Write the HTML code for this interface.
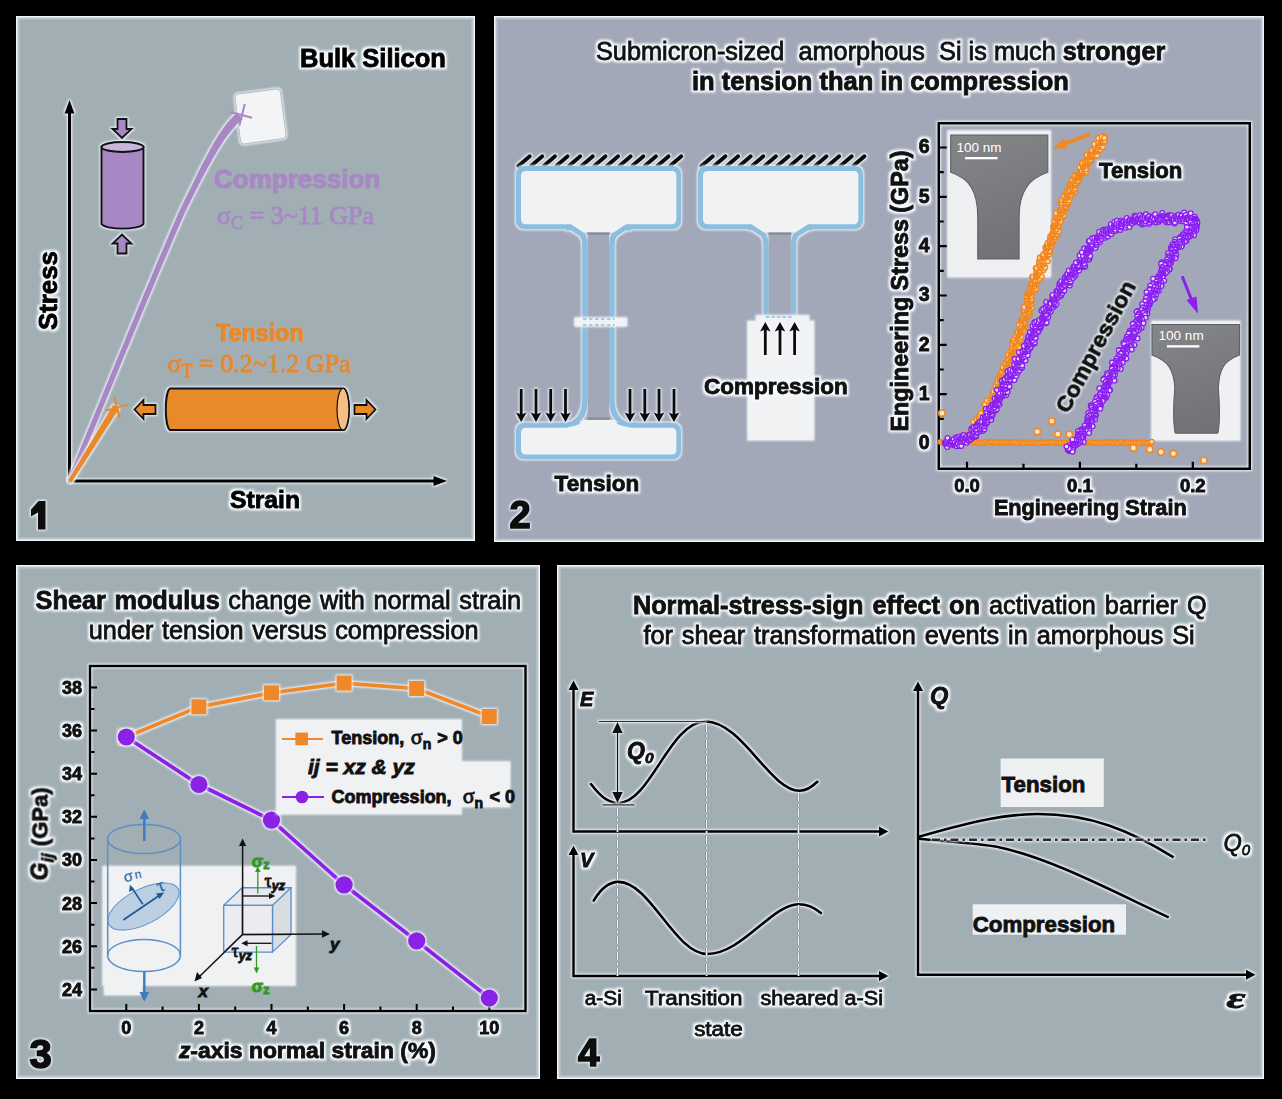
<!DOCTYPE html>
<html><head><meta charset="utf-8"><style>html,body{margin:0;padding:0;background:#000;width:1282px;height:1099px;overflow:hidden}svg{display:block}</style></head>
<body><svg width="1282" height="1099" viewBox="0 0 1282 1099">

<defs>
 <filter id="g" filterUnits="userSpaceOnUse" x="-1500" y="-1500" width="4500" height="4500" color-interpolation-filters="sRGB">
  <feMorphology in="SourceAlpha" operator="dilate" radius="1.5" result="d"/>
  <feGaussianBlur in="d" stdDeviation="1.05" result="b"/>
  <feFlood flood-color="#f8fcff" flood-opacity="1"/>
  <feComposite in2="b" operator="in" result="gl"/>
  <feMerge><feMergeNode in="gl"/><feMergeNode in="SourceGraphic"/></feMerge>
 </filter>
 <filter id="gs" filterUnits="userSpaceOnUse" x="-1500" y="-1500" width="4500" height="4500" color-interpolation-filters="sRGB">
  <feMorphology in="SourceAlpha" operator="dilate" radius="0.7" result="d"/>
  <feGaussianBlur in="d" stdDeviation="0.9" result="b"/>
  <feFlood flood-color="#f8fcff" flood-opacity="0.9"/>
  <feComposite in2="b" operator="in" result="gl"/>
  <feMerge><feMergeNode in="gl"/><feMergeNode in="SourceGraphic"/></feMerge>
 </filter>
 <filter id="num" filterUnits="userSpaceOnUse" x="-1500" y="-1500" width="4500" height="4500" color-interpolation-filters="sRGB">
  <feMorphology in="SourceAlpha" operator="dilate" radius="1" result="d"/>
  <feGaussianBlur in="d" stdDeviation="1.2" result="b"/>
  <feFlood flood-color="#f4fbff" flood-opacity="0.95"/>
  <feComposite in2="b" operator="in" result="gl"/>
  <feMerge><feMergeNode in="gl"/><feMergeNode in="SourceGraphic"/></feMerge>
 </filter>
 <filter id="inner" x="0" y="0" width="100%" height="100%" color-interpolation-filters="sRGB">
  <feGaussianBlur in="SourceAlpha" stdDeviation="1.5"/>
 </filter>
 <marker id="ah" viewBox="0 0 10 10" refX="9" refY="5" markerWidth="6" markerHeight="6" orient="auto-start-reverse">
  <path d="M0,0 L10,5 L0,10 z" fill="#000"/>
 </marker>
</defs>

<rect width="1282" height="1099" fill="#000"/>
<rect x="16" y="16" width="459" height="525" fill="#eef8fb"/>
<rect x="17.6" y="17.6" width="455.8" height="521.8" fill="#a1aeb4"/>
<rect x="18.6" y="18.6" width="453.8" height="519.8" fill="none" stroke="#eef8fb" stroke-opacity="0.3" stroke-width="2"/>
<g filter="url(#gs)">
<path d="M69.5,482.5 L69.5,110" stroke="#000" stroke-width="3" fill="none"/>
<path d="M64.6,113.5 L69.5,100 L74.4,113.5 Z" fill="#000"/>
<path d="M68,481 L437,481" stroke="#000" stroke-width="3" fill="none"/>
<path d="M433.5,476.1 L447,481 L433.5,485.9 Z" fill="#000"/>
</g>
<path d="M238,94 L277,89 Q280,89 280.5,92 L286,135 Q286,138 283,138.5 L244,144 Q241,144 240.5,141 L235,98 Q235,94.5 238,94 Z" fill="#f3f4f6" stroke="#8d969b" stroke-width="0.6" filter="url(#gs)"/>
<path d="M72.4,482.0 L74.3,477.3 L76.4,472.3 L78.5,467.1 L80.8,461.6 L83.1,455.9 L85.5,450.0 L88.1,443.9 L90.6,437.6 L93.3,431.1 L96.0,424.5 L98.8,417.7 L101.7,410.8 L104.6,403.8 L107.5,396.6 L110.5,389.4 L113.5,382.0 L116.6,374.6 L119.7,367.1 L122.8,359.6 L125.9,352.1 L129.1,344.5 L132.2,336.9 L135.4,329.3 L138.5,321.7 L141.7,314.2 L144.8,306.7 L147.9,299.2 L151.0,291.9 L154.1,284.6 L157.1,277.3 L160.1,270.2 L163.1,263.3 L166.0,256.4 L168.9,249.7 L171.7,243.1 L174.4,236.8 L177.1,230.6 L179.7,224.5 L182.2,218.7 L184.6,213.2 L186.3,209.8 L188.0,206.3 L189.7,202.9 L191.4,199.6 L193.0,196.3 L194.6,193.0 L196.2,189.8 L197.8,186.6 L199.4,183.5 L201.0,180.5 L202.5,177.5 L204.1,174.6 L205.6,171.8 L207.1,168.9 L208.6,166.2 L210.1,163.5 L211.6,160.9 L213.0,158.3 L214.5,155.8 L215.9,153.4 L217.3,151.0 L218.8,148.7 L220.2,146.4 L221.6,144.3 L222.9,142.1 L224.3,140.1 L225.7,138.1 L227.0,136.2 L228.4,134.4 L229.7,132.7 L231.1,131.0 L232.4,129.4 L233.7,127.9 L235.0,126.4 L236.3,125.1 L237.6,123.8 L238.9,122.6 L240.2,121.5 L241.4,120.4 L242.8,119.4 L237.2,112.6 L235.9,113.8 L234.4,115.0 L233.0,116.4 L231.6,117.9 L230.2,119.4 L228.9,120.9 L227.5,122.6 L226.1,124.3 L224.8,126.1 L223.4,127.9 L222.1,129.8 L220.7,131.8 L219.4,133.9 L218.0,136.0 L216.7,138.1 L215.3,140.4 L214.0,142.6 L212.6,145.0 L211.2,147.4 L209.8,149.9 L208.5,152.4 L207.1,155.0 L205.7,157.7 L204.2,160.4 L202.8,163.1 L201.4,165.9 L199.9,168.8 L198.5,171.7 L197.0,174.7 L195.5,177.8 L194.0,180.9 L192.5,184.0 L190.9,187.2 L189.3,190.4 L187.7,193.7 L186.1,197.0 L184.5,200.3 L182.8,203.8 L181.1,207.2 L179.4,210.8 L176.9,216.4 L174.4,222.3 L171.8,228.3 L169.1,234.5 L166.4,240.9 L163.6,247.5 L160.7,254.2 L157.8,261.0 L154.9,268.0 L151.9,275.2 L148.9,282.4 L145.8,289.7 L142.7,297.1 L139.6,304.5 L136.5,312.0 L133.4,319.6 L130.2,327.2 L127.1,334.8 L124.0,342.4 L120.8,349.9 L117.7,357.5 L114.6,365.0 L111.5,372.5 L108.5,379.9 L105.5,387.3 L102.5,394.6 L99.6,401.7 L96.7,408.8 L93.8,415.7 L91.1,422.5 L88.4,429.1 L85.7,435.6 L83.1,441.9 L80.6,448.0 L78.2,453.9 L75.9,459.6 L73.7,465.1 L71.5,470.3 L69.5,475.3 L67.6,480.0 Z" fill="#a788c4" filter="url(#gs)"/>
<path d="M230.6,112 L252,117.8 M244.8,104 L239.3,125.7" stroke="#a788c4" stroke-width="2" fill="none"/>
<path d="M68.8,480.2 L113.5,405.5 L118.5,408.5 L71.2,481.8 Z" fill="#e8892a" stroke="#e8892a" stroke-width="1.2" stroke-linejoin="round" filter="url(#gs)"/>
<path d="M106,410.6 L127.8,404.6 M114.2,397 L119.6,418" stroke="#e8892a" stroke-width="2" fill="none"/>
<g filter="url(#gs)">
<path d="M101.5,147 L101.5,224 A21.25,5.5 0 0 0 143.5,224 L143.5,147 Z" fill="#a788c4" stroke="#111" stroke-width="1.9"/>
<ellipse cx="122.5" cy="147" rx="21" ry="5" fill="#cbb6db" stroke="#111" stroke-width="1.9"/>
</g>
<path d="M117.5,119 L126.5,119 L126.5,129 L131.5,129 L122,138 L112.5,129 L117.5,129 Z" fill="#a788c4" stroke="#111" stroke-width="1.8" stroke-linejoin="miter" filter="url(#gs)"/>
<path d="M117.5,253.5 L126.5,253.5 L126.5,243.5 L131.5,243.5 L122,234.5 L112.5,243.5 L117.5,243.5 Z" fill="#a788c4" stroke="#111" stroke-width="1.8" stroke-linejoin="miter" filter="url(#gs)"/>
<g filter="url(#gs)">
<path d="M170,388.5 L344,388.5 A6,21 0 0 1 344,430 L170,430 A5,21 0 0 1 170,388.5 Z" fill="#e8892a" stroke="#111" stroke-width="1.9"/>
<ellipse cx="343" cy="409.25" rx="6" ry="20.75" fill="#f5bf82" stroke="#111" stroke-width="1.2"/>
</g>
<path d="M155.5,405.0 L155.5,414.0 L143.5,414.0 L143.5,419.0 L134.5,409.5 L143.5,400.0 L143.5,405.0 Z" fill="#e8892a" stroke="#111" stroke-width="1.8" filter="url(#gs)"/>
<path d="M354.5,405.0 L354.5,414.0 L366.5,414.0 L366.5,419.0 L375.5,409.5 L366.5,400.0 L366.5,405.0 Z" fill="#e8892a" stroke="#111" stroke-width="1.8" filter="url(#gs)"/>
<text x="300" y="67" font-family="'Liberation Sans', sans-serif" font-size="25.5" font-weight="bold" font-style="normal" fill="#000" text-anchor="start" filter="url(#g)"  stroke="#000" stroke-width="0.85">Bulk Silicon</text>
<text x="214" y="188" font-family="'Liberation Sans', sans-serif" font-size="26" font-weight="bold" font-style="normal" fill="#a788c4" text-anchor="start"  stroke="#a788c4" stroke-width="0.85">Compression</text>
<text x="217" y="224" font-family="'Liberation Serif', serif" font-size="26" fill="#a788c4" stroke="#a788c4" stroke-width="0.8">σ<tspan font-size="18" dy="5">C</tspan><tspan dy="-5"> = 3~11 GPa</tspan></text>
<text x="216.5" y="340.5" font-family="'Liberation Sans', sans-serif" font-size="23.3" font-weight="bold" font-style="normal" fill="#e8892a" text-anchor="start"  stroke="#e8892a" stroke-width="0.85">Tension</text>
<text x="168" y="372" font-family="'Liberation Serif', serif" font-size="26" fill="#e8892a" stroke="#e8892a" stroke-width="0.8">σ<tspan font-size="18" dy="5">T</tspan><tspan dy="-5"> = 0.2~1.2 GPa</tspan></text>
<text x="230" y="507.5" font-family="'Liberation Sans', sans-serif" font-size="24.7" font-weight="bold" font-style="normal" fill="#000" text-anchor="start" filter="url(#g)"  stroke="#000" stroke-width="0.85">Strain</text>
<text x="0" y="0" font-family="'Liberation Sans', sans-serif" font-size="25.8" font-weight="bold" font-style="normal" fill="#000" text-anchor="start" filter="url(#g)" transform="translate(57,330) rotate(-90)" stroke="#000" stroke-width="0.85">Stress</text>
<path d="M38.5,501 L45.5,501 L45.5,529.5 L38,529.5 L38,512.5 L31,516.5 L31,509.5 Z" fill="#0d0d0d" filter="url(#num)"/>
<rect x="494" y="16" width="770" height="526" fill="#eef8fb"/>
<rect x="495.6" y="17.6" width="766.8" height="522.8" fill="#a2a8b8"/>
<rect x="496.6" y="18.6" width="764.8" height="520.8" fill="none" stroke="#eef8fb" stroke-opacity="0.3" stroke-width="2"/>
<text x="596" y="60.2" font-family="'Liberation Sans', sans-serif" font-size="25.3" fill="#111" filter="url(#g)" xml:space="preserve" stroke="#111" stroke-width="0.8">Submicron-sized  amorphous  Si is much <tspan font-weight="bold">stronger</tspan></text>
<text x="692" y="90.4" font-family="'Liberation Sans', sans-serif" font-size="25.5" font-weight="bold" font-style="normal" fill="#111" text-anchor="start" filter="url(#g)"  stroke="#111" stroke-width="0.85">in tension than in compression</text>
<path d="M518.4,166 L529.7,156.2 M531.0,166 L542.3,156.2 M543.7,166 L555.0,156.2 M556.3,166 L567.6,156.2 M568.9,166 L580.2,156.2 M581.5,166 L592.8,156.2 M594.2,166 L605.5,156.2 M606.8,166 L618.1,156.2 M619.4,166 L630.7,156.2 M632.1,166 L643.4,156.2 M644.7,166 L656.0,156.2 M657.3,166 L668.6,156.2 M670.0,166 L681.3,156.2" stroke="#0a0a0a" stroke-width="3.8" stroke-linecap="round" fill="none" filter="url(#gs)"/>
<g filter="url(#gs)"><rect x="515.9" y="166" width="165.1" height="63.2" rx="8" fill="#8cbedf"/><rect x="515.9" y="422.8" width="165.1" height="36.5" rx="8" fill="#8cbedf"/><path d="M566,227.6 L572,227.6 L581.5,234 Q585,237 585,246 L585,400 C585,414 578,425.3 564,425.3 L560,425.3" stroke="#8cbedf" stroke-width="5.6" fill="none" stroke-linejoin="round"/><path d="M631,227.6 L625,227.6 L615.3,234 Q611.8,237 611.8,246 L611.8,400 C611.8,414 619,425.3 633,425.3 L637,425.3" stroke="#8cbedf" stroke-width="5.6" fill="none" stroke-linejoin="round"/></g>
<rect x="587.8" y="236" width="21.2" height="182" fill="#a2a8b8"/>
<path d="M526,171 L671.4,171 Q676.4,171 676.4,176 L676.4,219.3 Q676.4,224.3 671.4,224.3 L626,224.3 L613.5,232.5 L583.5,232.5 L571,224.3 L526,224.3 Q521,224.3 521,219.3 L521,176 Q521,171 526,171 Z" fill="#f1f2f4"/>
<path d="M526,427.7 L566,427.7 C576,426 582,424 583,419.8 L614,419.8 C615,424 621,426 631,427.7 L671.4,427.7 Q676.4,427.7 676.4,432.7 L676.4,449.4 Q676.4,454.4 671.4,454.4 L526,454.4 Q521,454.4 521,449.4 L521,432.7 Q521,427.7 526,427.7 Z" fill="#f1f2f4"/>
<rect x="587.5" y="232.5" width="21.8" height="2.2" fill="#7f8490" opacity="0.85"/>
<rect x="587.5" y="417.6" width="21.8" height="2.2" fill="#7f8490" opacity="0.85"/>
<rect x="575" y="318" width="51.5" height="8" rx="1" fill="#f1f2f4" filter="url(#gs)"/>
<path d="M583,319 L614.5,319 M583,325 L614.5,325" stroke="#8cbedf" stroke-width="1.3" stroke-dasharray="3.5,2.5" fill="none"/>
<g filter="url(#gs)">
<path d="M521.2,389 L521.2,415" stroke="#0a0a0a" stroke-width="2.8"/><path d="M515.9000000000001,412.5 L521.2,422 L526.5,412.5 L521.2,414.5 Z" fill="#0a0a0a"/>
<path d="M536,389 L536,415" stroke="#0a0a0a" stroke-width="2.8"/><path d="M530.7,412.5 L536,422 L541.3,412.5 L536,414.5 Z" fill="#0a0a0a"/>
<path d="M550.7,389 L550.7,415" stroke="#0a0a0a" stroke-width="2.8"/><path d="M545.4000000000001,412.5 L550.7,422 L556.0,412.5 L550.7,414.5 Z" fill="#0a0a0a"/>
<path d="M565.5,389 L565.5,415" stroke="#0a0a0a" stroke-width="2.8"/><path d="M560.2,412.5 L565.5,422 L570.8,412.5 L565.5,414.5 Z" fill="#0a0a0a"/>
<path d="M630,389 L630,415" stroke="#0a0a0a" stroke-width="2.8"/><path d="M624.7,412.5 L630,422 L635.3,412.5 L630,414.5 Z" fill="#0a0a0a"/>
<path d="M644.8,389 L644.8,415" stroke="#0a0a0a" stroke-width="2.8"/><path d="M639.5,412.5 L644.8,422 L650.0999999999999,412.5 L644.8,414.5 Z" fill="#0a0a0a"/>
<path d="M659,389 L659,415" stroke="#0a0a0a" stroke-width="2.8"/><path d="M653.7,412.5 L659,422 L664.3,412.5 L659,414.5 Z" fill="#0a0a0a"/>
<path d="M674,389 L674,415" stroke="#0a0a0a" stroke-width="2.8"/><path d="M668.7,412.5 L674,422 L679.3,412.5 L674,414.5 Z" fill="#0a0a0a"/>
</g>
<text x="554.6" y="491" font-family="'Liberation Sans', sans-serif" font-size="22.5" font-weight="bold" font-style="normal" fill="#111" text-anchor="start" filter="url(#g)"  stroke="#111" stroke-width="0.85">Tension</text>
<path d="M701.5,166 L712.8,156.2 M714.1,166 L725.4,156.2 M726.8,166 L738.1,156.2 M739.4,166 L750.7,156.2 M752.0,166 L763.3,156.2 M764.6,166 L775.9,156.2 M777.3,166 L788.6,156.2 M789.9,166 L801.2,156.2 M802.5,166 L813.8,156.2 M815.2,166 L826.5,156.2 M827.8,166 L839.1,156.2 M840.4,166 L851.7,156.2 M853.1,166 L864.4,156.2" stroke="#0a0a0a" stroke-width="3.8" stroke-linecap="round" fill="none" filter="url(#gs)"/>
<g filter="url(#gs)"><rect x="698" y="166" width="165" height="63.2" rx="8" fill="#8cbedf"/><path d="M748,227.6 L752.5,227.6 L762.5,234 Q766,237 766,246 L766,318" stroke="#8cbedf" stroke-width="5.4" fill="none" stroke-linejoin="round"/><path d="M812,227.6 L807.5,227.6 L797,234 Q793.5,237 793.5,246 L793.5,318" stroke="#8cbedf" stroke-width="5.4" fill="none" stroke-linejoin="round"/></g>
<rect x="768.7" y="236" width="22.1" height="84" fill="#a2a8b8"/>
<path d="M708,171 L853.4,171 Q858.4,171 858.4,176 L858.4,219.3 Q858.4,224.3 853.4,224.3 L808,224.3 L795.5,232.5 L764,232.5 L751.5,224.3 L708,224.3 Q703,224.3 703,219.3 L703,176 Q703,171 708,171 Z" fill="#f1f2f4"/>
<rect x="768.5" y="232.5" width="22.5" height="2.2" fill="#7f8490" opacity="0.85"/>
<path d="M756.5,315.8 L808.6,315.8 L808.6,321.5 L813.5,321.5 L813.5,439.7 L748,439.7 L748,321.5 L756.5,321.5 Z" fill="#f1f2f4" filter="url(#gs)"/>
<path d="M766,317 L793,317" stroke="#8cbedf" stroke-width="1.3" stroke-dasharray="3.5,2" fill="none"/>
<g filter="url(#gs)">
<path d="M765.3,355 L765.3,329" stroke="#0a0a0a" stroke-width="2.8"/><path d="M760.0,331.5 L765.3,322 L770.5999999999999,331.5 L765.3,329.5 Z" fill="#0a0a0a"/>
<path d="M780,355 L780,329" stroke="#0a0a0a" stroke-width="2.8"/><path d="M774.7,331.5 L780,322 L785.3,331.5 L780,329.5 Z" fill="#0a0a0a"/>
<path d="M794.6,355 L794.6,329" stroke="#0a0a0a" stroke-width="2.8"/><path d="M789.3000000000001,331.5 L794.6,322 L799.9,331.5 L794.6,329.5 Z" fill="#0a0a0a"/>
</g>
<text x="704" y="393.5" font-family="'Liberation Sans', sans-serif" font-size="22.5" font-weight="bold" font-style="normal" fill="#111" text-anchor="start" filter="url(#g)"  stroke="#111" stroke-width="0.85">Compression</text>
<defs><linearGradient id="semg" x1="0" y1="0" x2="0.3" y2="1"><stop offset="0" stop-color="#858689"/><stop offset="1" stop-color="#727377"/></linearGradient></defs>
<rect x="948" y="131" width="102.20000000000005" height="145.60000000000002" fill="#eff0f2" filter="url(#gs)"/>
<path d="M950.7,135 L1047.8,135 L1047.8,172.3 C1029.8,178.3 1019.1,190.3 1019.1,216.9 L1019.1,259 L977.75,259 L977.75,216.9 C977.75,190.3 968.7,178.3 950.7,172.3 Z" fill="url(#semg)" stroke="#5e6064" stroke-width="1.1"/>
<text x="956.5" y="152.4" font-family="'Liberation Sans', sans-serif" font-size="13.5" fill="#fff" stroke-width="0" stroke="#fff" stroke-width="0.8">100 nm</text>
<rect x="965" y="157" width="32.6" height="2.3" fill="#fff"/>
<rect x="1152" y="321.5" width="87.5" height="118.5" fill="#eff0f2" filter="url(#gs)"/>
<path d="M1152,324.5 L1239.5,324.5 L1239.5,355 C1223.5,361 1219.3,369 1218.3,388 C1220.3,413 1219.8,421.3 1218.3,431.3 Q1218.3,433.3 1216.3,433.3 L1176.8,433.3 Q1174.8,433.3 1174.8,431.3 C1173.3,421.3 1172.8,413 1174.8,388 C1173.8,369 1168,361 1152,355 Z" fill="url(#semg)" stroke="#5e6064" stroke-width="1.1"/>
<text x="1158.6" y="340.4" font-family="'Liberation Sans', sans-serif" font-size="13.5" fill="#fff" stroke-width="0" stroke="#fff" stroke-width="0.8">100 nm</text>
<rect x="1166.9" y="345.2" width="32.5" height="2.3" fill="#fff"/>
<rect x="938.75" y="123.25" width="311" height="345.5" fill="none" stroke="#000" stroke-width="2.5" filter="url(#gs)"/>
<path d="M938.75,443.5 L946.75,443.5 M938.75,418.8 L943.75,418.8 M938.75,394.2 L946.75,394.2 M938.75,369.5 L943.75,369.5 M938.75,344.8 L946.75,344.8 M938.75,320.2 L943.75,320.2 M938.75,295.5 L946.75,295.5 M938.75,270.8 L943.75,270.8 M938.75,246.2 L946.75,246.2 M938.75,221.5 L943.75,221.5 M938.75,196.9 L946.75,196.9 M938.75,172.2 L943.75,172.2 M938.75,147.5 L946.75,147.5 M967.0,468.75 L967.0,461.75 M1023.5,468.75 L1023.5,463.75 M1079.9,468.75 L1079.9,461.75 M1136.3,468.75 L1136.3,463.75 M1192.8,468.75 L1192.8,461.75" stroke="#000" stroke-width="2.2" fill="none"/>
<text x="929.5" y="449.3" font-family="'Liberation Sans', sans-serif" font-size="19.5" font-weight="bold" font-style="normal" fill="#111" text-anchor="end" filter="url(#g)"  stroke="#111" stroke-width="0.85">0</text>
<text x="929.5" y="399.97" font-family="'Liberation Sans', sans-serif" font-size="19.5" font-weight="bold" font-style="normal" fill="#111" text-anchor="end" filter="url(#g)"  stroke="#111" stroke-width="0.85">1</text>
<text x="929.5" y="350.64000000000004" font-family="'Liberation Sans', sans-serif" font-size="19.5" font-weight="bold" font-style="normal" fill="#111" text-anchor="end" filter="url(#g)"  stroke="#111" stroke-width="0.85">2</text>
<text x="929.5" y="301.31" font-family="'Liberation Sans', sans-serif" font-size="19.5" font-weight="bold" font-style="normal" fill="#111" text-anchor="end" filter="url(#g)"  stroke="#111" stroke-width="0.85">3</text>
<text x="929.5" y="251.98000000000002" font-family="'Liberation Sans', sans-serif" font-size="19.5" font-weight="bold" font-style="normal" fill="#111" text-anchor="end" filter="url(#g)"  stroke="#111" stroke-width="0.85">4</text>
<text x="929.5" y="202.65000000000003" font-family="'Liberation Sans', sans-serif" font-size="19.5" font-weight="bold" font-style="normal" fill="#111" text-anchor="end" filter="url(#g)"  stroke="#111" stroke-width="0.85">5</text>
<text x="929.5" y="153.32" font-family="'Liberation Sans', sans-serif" font-size="19.5" font-weight="bold" font-style="normal" fill="#111" text-anchor="end" filter="url(#g)"  stroke="#111" stroke-width="0.85">6</text>
<text x="967.0" y="491.8" font-family="'Liberation Sans', sans-serif" font-size="18.5" font-weight="bold" font-style="normal" fill="#111" text-anchor="middle" filter="url(#g)"  stroke="#111" stroke-width="0.85">0.0</text>
<text x="1079.9" y="491.8" font-family="'Liberation Sans', sans-serif" font-size="18.5" font-weight="bold" font-style="normal" fill="#111" text-anchor="middle" filter="url(#g)"  stroke="#111" stroke-width="0.85">0.1</text>
<text x="1192.8" y="491.8" font-family="'Liberation Sans', sans-serif" font-size="18.5" font-weight="bold" font-style="normal" fill="#111" text-anchor="middle" filter="url(#g)"  stroke="#111" stroke-width="0.85">0.2</text>
<text x="1090.3" y="515" font-family="'Liberation Sans', sans-serif" font-size="21.7" font-weight="bold" font-style="normal" fill="#111" text-anchor="middle" filter="url(#g)"  stroke="#111" stroke-width="0.85">Engineering Strain</text>
<text x="0" y="0" font-family="'Liberation Sans', sans-serif" font-size="23.3" font-weight="bold" font-style="normal" fill="#111" text-anchor="middle" filter="url(#g)" transform="translate(908,291) rotate(-90)" stroke="#111" stroke-width="0.85">Engineering Stress (GPa)</text>
<g stroke="#f0861c" fill="#fbd6aa" stroke-width="1.3"><circle cx="940.6" cy="442.0" r="2.4"/><circle cx="942.2" cy="442.7" r="2.4"/><circle cx="943.8" cy="442.9" r="2.4"/><circle cx="945.4" cy="442.3" r="2.4"/><circle cx="947.0" cy="442.0" r="2.4"/><circle cx="948.6" cy="442.5" r="2.4"/><circle cx="950.2" cy="442.7" r="2.4"/><circle cx="951.8" cy="442.9" r="2.4"/><circle cx="953.4" cy="442.0" r="2.4"/><circle cx="955.0" cy="442.0" r="2.4"/><circle cx="956.6" cy="442.8" r="2.4"/><circle cx="958.2" cy="442.7" r="2.4"/><circle cx="959.8" cy="443.1" r="2.4"/><circle cx="961.4" cy="442.9" r="2.4"/><circle cx="963.0" cy="442.5" r="2.4"/><circle cx="964.6" cy="442.4" r="2.4"/><circle cx="966.2" cy="443.3" r="2.4"/><circle cx="967.8" cy="442.4" r="2.4"/><circle cx="969.4" cy="442.2" r="2.4"/><circle cx="971.0" cy="442.0" r="2.4"/><circle cx="972.6" cy="442.5" r="2.4"/><circle cx="974.2" cy="442.6" r="2.4"/><circle cx="975.8" cy="442.4" r="2.4"/><circle cx="977.4" cy="442.5" r="2.4"/><circle cx="979.0" cy="442.6" r="2.4"/><circle cx="980.6" cy="442.8" r="2.4"/><circle cx="982.2" cy="442.9" r="2.4"/><circle cx="983.8" cy="442.6" r="2.4"/><circle cx="985.4" cy="441.8" r="2.4"/><circle cx="987.0" cy="442.8" r="2.4"/><circle cx="988.6" cy="441.9" r="2.4"/><circle cx="990.2" cy="442.4" r="2.4"/><circle cx="991.8" cy="441.9" r="2.4"/><circle cx="993.4" cy="442.5" r="2.4"/><circle cx="995.0" cy="442.2" r="2.4"/><circle cx="996.6" cy="442.6" r="2.4"/><circle cx="998.2" cy="443.3" r="2.4"/><circle cx="999.8" cy="442.5" r="2.4"/><circle cx="1001.4" cy="442.8" r="2.4"/><circle cx="1003.0" cy="442.0" r="2.4"/><circle cx="1004.6" cy="442.4" r="2.4"/><circle cx="1006.2" cy="442.8" r="2.4"/><circle cx="1007.8" cy="442.5" r="2.4"/><circle cx="1009.4" cy="442.6" r="2.4"/><circle cx="1011.0" cy="442.5" r="2.4"/><circle cx="1012.6" cy="442.1" r="2.4"/><circle cx="1014.2" cy="442.7" r="2.4"/><circle cx="1015.8" cy="442.2" r="2.4"/><circle cx="1017.4" cy="443.2" r="2.4"/><circle cx="1019.0" cy="442.3" r="2.4"/><circle cx="1020.6" cy="442.8" r="2.4"/><circle cx="1022.2" cy="442.5" r="2.4"/><circle cx="1023.8" cy="442.9" r="2.4"/><circle cx="1025.4" cy="442.3" r="2.4"/><circle cx="1027.0" cy="442.9" r="2.4"/><circle cx="1028.6" cy="442.5" r="2.4"/><circle cx="1030.2" cy="443.0" r="2.4"/><circle cx="1031.8" cy="442.7" r="2.4"/><circle cx="1033.4" cy="442.6" r="2.4"/><circle cx="1035.0" cy="442.2" r="2.4"/><circle cx="1036.6" cy="442.8" r="2.4"/><circle cx="1038.2" cy="442.7" r="2.4"/><circle cx="1039.8" cy="443.2" r="2.4"/><circle cx="1041.4" cy="442.3" r="2.4"/><circle cx="1043.0" cy="442.7" r="2.4"/><circle cx="1044.6" cy="442.7" r="2.4"/><circle cx="1046.2" cy="442.6" r="2.4"/><circle cx="1047.8" cy="442.6" r="2.4"/><circle cx="1049.4" cy="442.6" r="2.4"/><circle cx="1051.0" cy="442.3" r="2.4"/><circle cx="1052.6" cy="442.1" r="2.4"/><circle cx="1054.2" cy="442.3" r="2.4"/><circle cx="1055.8" cy="442.7" r="2.4"/><circle cx="1057.4" cy="443.1" r="2.4"/><circle cx="1059.0" cy="442.9" r="2.4"/><circle cx="1060.6" cy="442.9" r="2.4"/><circle cx="1062.2" cy="442.8" r="2.4"/><circle cx="1063.8" cy="442.8" r="2.4"/><circle cx="1065.4" cy="442.6" r="2.4"/><circle cx="1067.0" cy="442.8" r="2.4"/><circle cx="1068.6" cy="443.2" r="2.4"/><circle cx="1070.2" cy="442.4" r="2.4"/><circle cx="1071.8" cy="442.2" r="2.4"/><circle cx="1073.4" cy="443.3" r="2.4"/><circle cx="1075.0" cy="442.6" r="2.4"/><circle cx="1076.6" cy="442.9" r="2.4"/><circle cx="1078.2" cy="442.8" r="2.4"/><circle cx="1079.8" cy="442.0" r="2.4"/><circle cx="1081.4" cy="443.3" r="2.4"/><circle cx="1083.0" cy="443.2" r="2.4"/><circle cx="1084.6" cy="442.6" r="2.4"/><circle cx="1086.2" cy="442.8" r="2.4"/><circle cx="1087.8" cy="442.6" r="2.4"/><circle cx="1089.4" cy="442.1" r="2.4"/><circle cx="1091.0" cy="442.5" r="2.4"/><circle cx="1092.6" cy="442.6" r="2.4"/><circle cx="1094.2" cy="442.9" r="2.4"/><circle cx="1095.8" cy="442.8" r="2.4"/><circle cx="1097.4" cy="442.5" r="2.4"/><circle cx="1099.0" cy="443.0" r="2.4"/><circle cx="1100.6" cy="442.2" r="2.4"/><circle cx="1102.2" cy="442.8" r="2.4"/><circle cx="1103.8" cy="442.9" r="2.4"/><circle cx="1105.4" cy="442.4" r="2.4"/><circle cx="1107.0" cy="441.8" r="2.4"/><circle cx="1108.6" cy="442.1" r="2.4"/><circle cx="1110.2" cy="442.6" r="2.4"/><circle cx="1111.8" cy="442.7" r="2.4"/><circle cx="1113.4" cy="443.1" r="2.4"/><circle cx="1115.0" cy="442.1" r="2.4"/><circle cx="1116.6" cy="442.5" r="2.4"/><circle cx="1118.2" cy="442.8" r="2.4"/><circle cx="1119.8" cy="442.4" r="2.4"/><circle cx="1121.4" cy="441.7" r="2.4"/><circle cx="1123.0" cy="442.8" r="2.4"/><circle cx="1124.6" cy="443.3" r="2.4"/><circle cx="1126.2" cy="442.9" r="2.4"/><circle cx="1127.8" cy="442.1" r="2.4"/><circle cx="1129.4" cy="442.3" r="2.4"/><circle cx="1131.0" cy="442.6" r="2.4"/><circle cx="1132.6" cy="443.3" r="2.4"/><circle cx="1134.2" cy="442.7" r="2.4"/><circle cx="1135.8" cy="442.5" r="2.4"/><circle cx="1137.4" cy="443.1" r="2.4"/><circle cx="1139.0" cy="442.5" r="2.4"/><circle cx="1140.6" cy="443.2" r="2.4"/><circle cx="1142.2" cy="442.2" r="2.4"/><circle cx="1143.8" cy="442.3" r="2.4"/><circle cx="1145.4" cy="442.8" r="2.4"/><circle cx="1147.0" cy="443.1" r="2.4"/><circle cx="1148.6" cy="442.8" r="2.4"/><circle cx="1150.2" cy="442.6" r="2.4"/><circle cx="1151.8" cy="441.8" r="2.4"/></g>
<g stroke="#f0861c" fill="#fbd6aa" stroke-width="1.3"><path d="M955.8,441.5 L956.4,441.3 L957.1,441.1 L958.0,440.8 L959.0,440.6 L960.1,440.3 L961.2,440.0 L962.4,439.6 L963.6,439.1 L964.7,438.6 L965.9,438.0 L967.0,437.3 L968.0,436.5 L968.9,435.6 L969.8,434.7 L970.7,433.7 L971.5,432.6 L972.4,431.5 L973.2,430.2 L974.1,428.9 L975.0,427.6 L975.9,426.1 L976.9,424.5 L978.0,422.8 L979.1,421.0 L980.3,419.1 L981.7,417.0 L983.1,414.9 L984.6,412.6 L986.1,410.3 L987.6,407.8 L989.2,405.3 L990.7,402.7 L992.3,400.1 L993.8,397.4 L995.2,394.7 L996.6,392.0 L997.9,389.2 L999.2,386.3 L1000.5,383.4 L1001.7,380.4 L1003.0,377.3 L1004.2,374.2 L1005.4,371.1 L1006.6,367.9 L1007.7,364.8 L1008.9,361.7 L1010.0,358.6 L1011.2,355.5 L1012.4,352.4 L1013.5,349.3 L1014.7,346.2 L1015.9,343.1 L1017.0,340.0 L1018.2,336.8 L1019.3,333.7 L1020.4,330.7 L1021.4,327.7 L1022.4,324.7 L1023.4,321.9 L1024.3,319.1 L1025.1,316.5 L1025.8,314.0 L1026.4,311.7 L1026.9,309.5 L1027.4,307.3 L1027.8,305.2 L1028.3,303.0 L1028.9,300.7 L1029.5,298.3 L1030.2,295.8 L1031.0,293.0 L1032.0,290.0 L1033.1,286.7 L1034.4,283.2 L1035.8,279.5 L1037.3,275.7 L1038.9,271.7 L1040.5,267.7 L1042.1,263.6 L1043.8,259.5 L1045.4,255.4 L1047.0,251.3 L1048.5,247.4 L1050.0,243.6 L1051.4,239.9 L1052.7,236.2 L1054.0,232.5 L1055.3,228.8 L1056.6,225.1 L1057.8,221.5 L1059.1,217.9 L1060.4,214.3 L1061.7,210.8 L1063.1,207.3 L1064.5,203.9 L1066.0,200.5 L1067.6,197.1 L1069.3,193.7 L1071.2,190.2 L1073.0,186.8 L1075.0,183.3 L1076.9,180.0 L1078.8,176.7 L1080.6,173.6 L1082.4,170.7 L1084.1,167.9 L1085.6,165.3 L1087.0,163.0 L1088.2,160.9 L1089.3,159.1 L1090.3,157.6 L1091.3,156.2 L1092.1,154.9 L1092.9,153.8 L1093.6,152.8 L1094.3,151.8 L1095.0,150.9 L1095.6,150.0 L1096.3,149.0 L1097.0,148.0 L1097.7,146.9 L1098.4,145.9 L1099.1,144.8 L1099.8,143.8 L1100.5,142.8 L1101.1,141.8 L1101.7,140.9 L1102.3,140.1 L1102.8,139.3 L1103.3,138.6 L1103.7,138.0 L1104.0,137.5" stroke="#f0861c" stroke-width="8" fill="none" stroke-linejoin="round" stroke-linecap="round"/><circle cx="955.3" cy="438.4" r="2.5"/><circle cx="957.1" cy="441.6" r="2.5"/><circle cx="957.4" cy="440.4" r="2.5"/><circle cx="957.8" cy="439.8" r="2.5"/><circle cx="959.2" cy="442.7" r="2.5"/><circle cx="959.3" cy="440.7" r="2.5"/><circle cx="959.7" cy="439.8" r="2.5"/><circle cx="961.5" cy="443.9" r="2.5"/><circle cx="960.7" cy="439.0" r="2.5"/><circle cx="960.7" cy="437.3" r="2.5"/><circle cx="961.2" cy="436.9" r="2.5"/><circle cx="962.3" cy="438.4" r="2.5"/><circle cx="963.8" cy="440.6" r="2.5"/><circle cx="964.6" cy="440.7" r="2.5"/><circle cx="965.4" cy="441.0" r="2.5"/><circle cx="966.8" cy="442.0" r="2.5"/><circle cx="967.2" cy="441.5" r="2.5"/><circle cx="966.7" cy="439.2" r="2.5"/><circle cx="968.0" cy="440.1" r="2.5"/><circle cx="967.8" cy="438.6" r="2.5"/><circle cx="966.7" cy="436.0" r="2.5"/><circle cx="969.1" cy="438.0" r="2.5"/><circle cx="968.5" cy="436.3" r="2.5"/><circle cx="968.6" cy="435.5" r="2.5"/><circle cx="972.3" cy="438.3" r="2.5"/><circle cx="970.9" cy="436.1" r="2.5"/><circle cx="969.3" cy="433.8" r="2.5"/><circle cx="970.4" cy="434.0" r="2.5"/><circle cx="974.2" cy="436.2" r="2.5"/><circle cx="970.9" cy="432.8" r="2.5"/><circle cx="972.9" cy="433.6" r="2.5"/><circle cx="973.1" cy="433.0" r="2.5"/><circle cx="973.3" cy="432.3" r="2.5"/><circle cx="973.8" cy="431.9" r="2.5"/><circle cx="972.2" cy="430.1" r="2.5"/><circle cx="972.5" cy="429.7" r="2.5"/><circle cx="973.4" cy="429.5" r="2.5"/><circle cx="973.4" cy="428.8" r="2.5"/><circle cx="975.9" cy="429.6" r="2.5"/><circle cx="977.5" cy="430.0" r="2.5"/><circle cx="973.4" cy="426.6" r="2.5"/><circle cx="976.4" cy="427.8" r="2.5"/><circle cx="973.9" cy="425.5" r="2.5"/><circle cx="974.7" cy="425.4" r="2.5"/><circle cx="975.9" cy="425.4" r="2.5"/><circle cx="976.8" cy="425.3" r="2.5"/><circle cx="976.1" cy="424.1" r="2.5"/><circle cx="973.5" cy="421.8" r="2.5"/><circle cx="980.1" cy="425.2" r="2.5"/><circle cx="977.4" cy="422.8" r="2.5"/><circle cx="977.0" cy="421.9" r="2.5"/><circle cx="979.8" cy="422.9" r="2.5"/><circle cx="977.8" cy="420.9" r="2.5"/><circle cx="976.6" cy="419.4" r="2.5"/><circle cx="980.4" cy="421.2" r="2.5"/><circle cx="980.6" cy="420.6" r="2.5"/><circle cx="978.7" cy="418.6" r="2.5"/><circle cx="982.0" cy="420.1" r="2.5"/><circle cx="981.5" cy="419.0" r="2.5"/><circle cx="979.1" cy="416.7" r="2.5"/><circle cx="984.7" cy="419.7" r="2.5"/><circle cx="982.3" cy="417.4" r="2.5"/><circle cx="980.1" cy="415.2" r="2.5"/><circle cx="983.3" cy="416.6" r="2.5"/><circle cx="983.0" cy="415.7" r="2.5"/><circle cx="984.9" cy="416.2" r="2.5"/><circle cx="981.0" cy="413.0" r="2.5"/><circle cx="985.7" cy="415.3" r="2.5"/><circle cx="985.8" cy="414.7" r="2.5"/><circle cx="985.7" cy="413.9" r="2.5"/><circle cx="985.9" cy="413.3" r="2.5"/><circle cx="987.5" cy="413.6" r="2.5"/><circle cx="986.7" cy="412.4" r="2.5"/><circle cx="986.0" cy="411.2" r="2.5"/><circle cx="984.5" cy="409.5" r="2.5"/><circle cx="988.4" cy="411.3" r="2.5"/><circle cx="988.5" cy="410.7" r="2.5"/><circle cx="987.6" cy="409.4" r="2.5"/><circle cx="987.6" cy="408.7" r="2.5"/><circle cx="989.0" cy="408.8" r="2.5"/><circle cx="984.2" cy="405.2" r="2.5"/><circle cx="988.9" cy="407.3" r="2.5"/><circle cx="984.9" cy="404.1" r="2.5"/><circle cx="989.4" cy="406.2" r="2.5"/><circle cx="991.2" cy="406.7" r="2.5"/><circle cx="993.1" cy="407.1" r="2.5"/><circle cx="989.0" cy="403.9" r="2.5"/><circle cx="991.0" cy="404.4" r="2.5"/><circle cx="990.3" cy="403.3" r="2.5"/><circle cx="987.0" cy="400.6" r="2.5"/><circle cx="992.5" cy="403.1" r="2.5"/><circle cx="991.4" cy="401.8" r="2.5"/><circle cx="991.8" cy="401.4" r="2.5"/><circle cx="990.2" cy="399.8" r="2.5"/><circle cx="992.2" cy="400.2" r="2.5"/><circle cx="992.7" cy="399.8" r="2.5"/><circle cx="995.3" cy="400.6" r="2.5"/><circle cx="993.7" cy="399.0" r="2.5"/><circle cx="997.1" cy="400.2" r="2.5"/><circle cx="993.0" cy="397.2" r="2.5"/><circle cx="993.5" cy="396.9" r="2.5"/><circle cx="994.2" cy="396.5" r="2.5"/><circle cx="993.1" cy="395.2" r="2.5"/><circle cx="997.8" cy="397.1" r="2.5"/><circle cx="996.4" cy="395.7" r="2.5"/><circle cx="993.0" cy="393.2" r="2.5"/><circle cx="995.9" cy="394.0" r="2.5"/><circle cx="998.2" cy="394.5" r="2.5"/><circle cx="993.5" cy="391.5" r="2.5"/><circle cx="996.8" cy="392.5" r="2.5"/><circle cx="996.3" cy="391.6" r="2.5"/><circle cx="1000.9" cy="393.1" r="2.5"/><circle cx="998.1" cy="391.1" r="2.5"/><circle cx="996.8" cy="389.8" r="2.5"/><circle cx="996.7" cy="389.1" r="2.5"/><circle cx="1001.9" cy="390.8" r="2.5"/><circle cx="997.4" cy="388.1" r="2.5"/><circle cx="1002.4" cy="389.7" r="2.5"/><circle cx="995.7" cy="386.0" r="2.5"/><circle cx="998.7" cy="386.7" r="2.5"/><circle cx="998.9" cy="386.1" r="2.5"/><circle cx="998.2" cy="385.2" r="2.5"/><circle cx="999.4" cy="385.1" r="2.5"/><circle cx="1001.4" cy="385.3" r="2.5"/><circle cx="999.0" cy="383.6" r="2.5"/><circle cx="997.6" cy="382.4" r="2.5"/><circle cx="1003.5" cy="384.2" r="2.5"/><circle cx="1003.9" cy="383.7" r="2.5"/><circle cx="999.8" cy="381.4" r="2.5"/><circle cx="1002.1" cy="381.6" r="2.5"/><circle cx="997.6" cy="379.1" r="2.5"/><circle cx="1004.0" cy="381.1" r="2.5"/><circle cx="999.4" cy="378.6" r="2.5"/><circle cx="1001.2" cy="378.7" r="2.5"/><circle cx="1006.5" cy="380.2" r="2.5"/><circle cx="1000.2" cy="377.0" r="2.5"/><circle cx="1003.1" cy="377.5" r="2.5"/><circle cx="1001.1" cy="376.1" r="2.5"/><circle cx="999.7" cy="374.9" r="2.5"/><circle cx="1001.3" cy="374.9" r="2.5"/><circle cx="1004.4" cy="375.5" r="2.5"/><circle cx="1001.4" cy="373.6" r="2.5"/><circle cx="1003.1" cy="373.7" r="2.5"/><circle cx="1006.0" cy="374.1" r="2.5"/><circle cx="1004.4" cy="372.9" r="2.5"/><circle cx="1002.3" cy="371.4" r="2.5"/><circle cx="1008.2" cy="373.0" r="2.5"/><circle cx="1005.6" cy="371.4" r="2.5"/><circle cx="1008.5" cy="371.8" r="2.5"/><circle cx="1003.7" cy="369.4" r="2.5"/><circle cx="1009.5" cy="370.9" r="2.5"/><circle cx="1003.5" cy="368.0" r="2.5"/><circle cx="1002.9" cy="367.2" r="2.5"/><circle cx="1005.8" cy="367.6" r="2.5"/><circle cx="1006.1" cy="367.1" r="2.5"/><circle cx="1007.6" cy="367.0" r="2.5"/><circle cx="1006.1" cy="365.8" r="2.5"/><circle cx="1008.8" cy="366.2" r="2.5"/><circle cx="1010.4" cy="366.2" r="2.5"/><circle cx="1006.6" cy="364.1" r="2.5"/><circle cx="1005.3" cy="363.0" r="2.5"/><circle cx="1007.5" cy="363.1" r="2.5"/><circle cx="1010.2" cy="363.5" r="2.5"/><circle cx="1010.4" cy="362.9" r="2.5"/><circle cx="1008.2" cy="361.5" r="2.5"/><circle cx="1007.2" cy="360.4" r="2.5"/><circle cx="1009.3" cy="360.6" r="2.5"/><circle cx="1011.6" cy="360.8" r="2.5"/><circle cx="1008.3" cy="359.0" r="2.5"/><circle cx="1012.7" cy="359.9" r="2.5"/><circle cx="1010.7" cy="358.6" r="2.5"/><circle cx="1011.0" cy="358.0" r="2.5"/><circle cx="1009.4" cy="356.8" r="2.5"/><circle cx="1013.6" cy="357.8" r="2.5"/><circle cx="1011.1" cy="356.2" r="2.5"/><circle cx="1008.2" cy="354.4" r="2.5"/><circle cx="1013.2" cy="355.7" r="2.5"/><circle cx="1010.8" cy="354.1" r="2.5"/><circle cx="1014.1" cy="354.7" r="2.5"/><circle cx="1012.5" cy="353.5" r="2.5"/><circle cx="1011.1" cy="352.3" r="2.5"/><circle cx="1012.9" cy="352.3" r="2.5"/><circle cx="1011.8" cy="351.3" r="2.5"/><circle cx="1011.3" cy="350.5" r="2.5"/><circle cx="1013.2" cy="350.5" r="2.5"/><circle cx="1015.1" cy="350.6" r="2.5"/><circle cx="1013.8" cy="349.5" r="2.5"/><circle cx="1013.6" cy="348.8" r="2.5"/><circle cx="1012.9" cy="347.9" r="2.5"/><circle cx="1015.4" cy="348.2" r="2.5"/><circle cx="1015.0" cy="347.4" r="2.5"/><circle cx="1016.6" cy="347.3" r="2.5"/><circle cx="1015.6" cy="346.3" r="2.5"/><circle cx="1019.0" cy="346.9" r="2.5"/><circle cx="1012.1" cy="343.7" r="2.5"/><circle cx="1015.4" cy="344.3" r="2.5"/><circle cx="1016.8" cy="344.2" r="2.5"/><circle cx="1017.8" cy="343.9" r="2.5"/><circle cx="1013.0" cy="341.5" r="2.5"/><circle cx="1013.8" cy="341.2" r="2.5"/><circle cx="1016.5" cy="341.5" r="2.5"/><circle cx="1018.9" cy="341.8" r="2.5"/><circle cx="1019.2" cy="341.2" r="2.5"/><circle cx="1014.1" cy="338.7" r="2.5"/><circle cx="1017.6" cy="339.4" r="2.5"/><circle cx="1020.0" cy="339.6" r="2.5"/><circle cx="1017.9" cy="338.2" r="2.5"/><circle cx="1015.9" cy="336.8" r="2.5"/><circle cx="1016.7" cy="336.5" r="2.5"/><circle cx="1015.7" cy="335.5" r="2.5"/><circle cx="1021.1" cy="336.8" r="2.5"/><circle cx="1018.3" cy="335.2" r="2.5"/><circle cx="1018.1" cy="334.5" r="2.5"/><circle cx="1017.4" cy="333.6" r="2.5"/><circle cx="1019.1" cy="333.5" r="2.5"/><circle cx="1017.8" cy="332.4" r="2.5"/><circle cx="1017.8" cy="331.8" r="2.5"/><circle cx="1020.0" cy="331.9" r="2.5"/><circle cx="1019.8" cy="331.2" r="2.5"/><circle cx="1021.4" cy="331.2" r="2.5"/><circle cx="1020.9" cy="330.4" r="2.5"/><circle cx="1023.3" cy="330.5" r="2.5"/><circle cx="1020.9" cy="329.1" r="2.5"/><circle cx="1021.8" cy="328.7" r="2.5"/><circle cx="1021.9" cy="328.2" r="2.5"/><circle cx="1020.0" cy="326.9" r="2.5"/><circle cx="1024.3" cy="327.7" r="2.5"/><circle cx="1020.9" cy="325.9" r="2.5"/><circle cx="1019.0" cy="324.6" r="2.5"/><circle cx="1025.0" cy="326.0" r="2.5"/><circle cx="1023.9" cy="325.0" r="2.5"/><circle cx="1021.6" cy="323.6" r="2.5"/><circle cx="1024.9" cy="324.1" r="2.5"/><circle cx="1025.2" cy="323.5" r="2.5"/><circle cx="1024.8" cy="322.8" r="2.5"/><circle cx="1021.1" cy="321.0" r="2.5"/><circle cx="1024.1" cy="321.3" r="2.5"/><circle cx="1021.8" cy="319.9" r="2.5"/><circle cx="1022.8" cy="319.6" r="2.5"/><circle cx="1023.1" cy="319.1" r="2.5"/><circle cx="1022.7" cy="318.3" r="2.5"/><circle cx="1025.7" cy="318.6" r="2.5"/><circle cx="1023.2" cy="317.2" r="2.5"/><circle cx="1026.3" cy="317.5" r="2.5"/><circle cx="1025.5" cy="316.7" r="2.5"/><circle cx="1024.1" cy="315.6" r="2.5"/><circle cx="1025.8" cy="315.5" r="2.5"/><circle cx="1027.1" cy="315.2" r="2.5"/><circle cx="1028.2" cy="314.9" r="2.5"/><circle cx="1025.4" cy="313.5" r="2.5"/><circle cx="1029.8" cy="314.0" r="2.5"/><circle cx="1027.5" cy="312.8" r="2.5"/><circle cx="1029.0" cy="312.6" r="2.5"/><circle cx="1023.7" cy="310.7" r="2.5"/><circle cx="1024.4" cy="310.2" r="2.5"/><circle cx="1029.4" cy="310.8" r="2.5"/><circle cx="1026.5" cy="309.5" r="2.5"/><circle cx="1028.1" cy="309.2" r="2.5"/><circle cx="1029.8" cy="309.0" r="2.5"/><circle cx="1024.3" cy="307.2" r="2.5"/><circle cx="1028.4" cy="307.5" r="2.5"/><circle cx="1031.7" cy="307.6" r="2.5"/><circle cx="1029.4" cy="306.5" r="2.5"/><circle cx="1028.1" cy="305.5" r="2.5"/><circle cx="1029.2" cy="305.2" r="2.5"/><circle cx="1028.1" cy="304.3" r="2.5"/><circle cx="1029.9" cy="304.1" r="2.5"/><circle cx="1031.1" cy="303.8" r="2.5"/><circle cx="1028.0" cy="302.5" r="2.5"/><circle cx="1029.9" cy="302.3" r="2.5"/><circle cx="1029.4" cy="301.6" r="2.5"/><circle cx="1030.5" cy="301.2" r="2.5"/><circle cx="1030.8" cy="300.7" r="2.5"/><circle cx="1027.0" cy="299.1" r="2.5"/><circle cx="1031.8" cy="299.7" r="2.5"/><circle cx="1031.3" cy="299.0" r="2.5"/><circle cx="1027.4" cy="297.3" r="2.5"/><circle cx="1029.2" cy="297.2" r="2.5"/><circle cx="1026.9" cy="295.9" r="2.5"/><circle cx="1029.6" cy="296.0" r="2.5"/><circle cx="1031.0" cy="295.8" r="2.5"/><circle cx="1028.1" cy="294.3" r="2.5"/><circle cx="1029.1" cy="294.0" r="2.5"/><circle cx="1029.0" cy="293.3" r="2.5"/><circle cx="1029.6" cy="292.9" r="2.5"/><circle cx="1029.6" cy="292.2" r="2.5"/><circle cx="1029.2" cy="291.5" r="2.5"/><circle cx="1032.7" cy="292.0" r="2.5"/><circle cx="1031.3" cy="290.9" r="2.5"/><circle cx="1030.2" cy="289.9" r="2.5"/><circle cx="1034.1" cy="290.6" r="2.5"/><circle cx="1031.2" cy="288.9" r="2.5"/><circle cx="1034.4" cy="289.4" r="2.5"/><circle cx="1030.2" cy="287.3" r="2.5"/><circle cx="1035.8" cy="288.6" r="2.5"/><circle cx="1032.2" cy="286.7" r="2.5"/><circle cx="1031.4" cy="285.8" r="2.5"/><circle cx="1034.4" cy="286.2" r="2.5"/><circle cx="1031.0" cy="284.4" r="2.5"/><circle cx="1031.7" cy="284.0" r="2.5"/><circle cx="1034.6" cy="284.4" r="2.5"/><circle cx="1033.4" cy="283.3" r="2.5"/><circle cx="1035.4" cy="283.4" r="2.5"/><circle cx="1035.1" cy="282.7" r="2.5"/><circle cx="1035.5" cy="282.2" r="2.5"/><circle cx="1035.5" cy="281.5" r="2.5"/><circle cx="1036.9" cy="281.4" r="2.5"/><circle cx="1035.6" cy="280.3" r="2.5"/><circle cx="1038.1" cy="280.6" r="2.5"/><circle cx="1038.0" cy="279.9" r="2.5"/><circle cx="1032.3" cy="277.1" r="2.5"/><circle cx="1032.9" cy="276.7" r="2.5"/><circle cx="1039.8" cy="278.7" r="2.5"/><circle cx="1036.0" cy="276.6" r="2.5"/><circle cx="1037.5" cy="276.5" r="2.5"/><circle cx="1037.1" cy="275.7" r="2.5"/><circle cx="1038.1" cy="275.5" r="2.5"/><circle cx="1041.7" cy="276.3" r="2.5"/><circle cx="1036.6" cy="273.6" r="2.5"/><circle cx="1038.4" cy="273.7" r="2.5"/><circle cx="1038.5" cy="273.0" r="2.5"/><circle cx="1036.5" cy="271.6" r="2.5"/><circle cx="1037.1" cy="271.2" r="2.5"/><circle cx="1038.6" cy="271.2" r="2.5"/><circle cx="1039.3" cy="270.8" r="2.5"/><circle cx="1040.3" cy="270.6" r="2.5"/><circle cx="1035.8" cy="268.1" r="2.5"/><circle cx="1036.8" cy="267.9" r="2.5"/><circle cx="1043.5" cy="269.9" r="2.5"/><circle cx="1040.1" cy="267.9" r="2.5"/><circle cx="1042.3" cy="268.1" r="2.5"/><circle cx="1040.0" cy="266.6" r="2.5"/><circle cx="1039.7" cy="265.8" r="2.5"/><circle cx="1045.2" cy="267.4" r="2.5"/><circle cx="1039.1" cy="264.2" r="2.5"/><circle cx="1039.9" cy="264.0" r="2.5"/><circle cx="1043.3" cy="264.7" r="2.5"/><circle cx="1042.2" cy="263.6" r="2.5"/><circle cx="1039.1" cy="261.7" r="2.5"/><circle cx="1042.9" cy="262.6" r="2.5"/><circle cx="1044.3" cy="262.5" r="2.5"/><circle cx="1040.0" cy="260.1" r="2.5"/><circle cx="1042.2" cy="260.3" r="2.5"/><circle cx="1045.1" cy="260.9" r="2.5"/><circle cx="1047.6" cy="261.2" r="2.5"/><circle cx="1039.9" cy="257.5" r="2.5"/><circle cx="1042.8" cy="258.0" r="2.5"/><circle cx="1044.5" cy="258.0" r="2.5"/><circle cx="1042.8" cy="256.7" r="2.5"/><circle cx="1043.1" cy="256.2" r="2.5"/><circle cx="1044.1" cy="255.9" r="2.5"/><circle cx="1046.4" cy="256.2" r="2.5"/><circle cx="1043.4" cy="254.4" r="2.5"/><circle cx="1047.5" cy="255.3" r="2.5"/><circle cx="1047.7" cy="254.8" r="2.5"/><circle cx="1047.9" cy="254.2" r="2.5"/><circle cx="1049.5" cy="254.2" r="2.5"/><circle cx="1045.6" cy="252.0" r="2.5"/><circle cx="1046.8" cy="251.8" r="2.5"/><circle cx="1049.1" cy="252.1" r="2.5"/><circle cx="1049.9" cy="251.7" r="2.5"/><circle cx="1049.4" cy="250.9" r="2.5"/><circle cx="1046.8" cy="249.3" r="2.5"/><circle cx="1047.0" cy="248.7" r="2.5"/><circle cx="1045.5" cy="247.5" r="2.5"/><circle cx="1047.5" cy="247.6" r="2.5"/><circle cx="1046.8" cy="246.7" r="2.5"/><circle cx="1047.9" cy="246.5" r="2.5"/><circle cx="1048.3" cy="246.0" r="2.5"/><circle cx="1050.9" cy="246.4" r="2.5"/><circle cx="1051.2" cy="245.8" r="2.5"/><circle cx="1049.6" cy="244.6" r="2.5"/><circle cx="1047.6" cy="243.1" r="2.5"/><circle cx="1050.0" cy="243.4" r="2.5"/><circle cx="1051.2" cy="243.2" r="2.5"/><circle cx="1052.3" cy="243.0" r="2.5"/><circle cx="1051.2" cy="241.9" r="2.5"/><circle cx="1052.6" cy="241.8" r="2.5"/><circle cx="1049.9" cy="240.2" r="2.5"/><circle cx="1052.7" cy="240.6" r="2.5"/><circle cx="1053.1" cy="240.1" r="2.5"/><circle cx="1051.1" cy="238.7" r="2.5"/><circle cx="1050.5" cy="237.8" r="2.5"/><circle cx="1054.7" cy="238.7" r="2.5"/><circle cx="1050.4" cy="236.5" r="2.5"/><circle cx="1054.0" cy="237.2" r="2.5"/><circle cx="1052.3" cy="235.9" r="2.5"/><circle cx="1052.3" cy="235.3" r="2.5"/><circle cx="1052.7" cy="234.8" r="2.5"/><circle cx="1052.5" cy="234.1" r="2.5"/><circle cx="1053.5" cy="233.9" r="2.5"/><circle cx="1057.4" cy="234.6" r="2.5"/><circle cx="1057.0" cy="233.8" r="2.5"/><circle cx="1053.9" cy="232.1" r="2.5"/><circle cx="1055.4" cy="231.9" r="2.5"/><circle cx="1056.4" cy="231.7" r="2.5"/><circle cx="1053.9" cy="230.2" r="2.5"/><circle cx="1058.7" cy="231.2" r="2.5"/><circle cx="1055.3" cy="229.4" r="2.5"/><circle cx="1056.6" cy="229.2" r="2.5"/><circle cx="1053.6" cy="227.5" r="2.5"/><circle cx="1053.5" cy="226.9" r="2.5"/><circle cx="1053.9" cy="226.4" r="2.5"/><circle cx="1054.8" cy="226.1" r="2.5"/><circle cx="1058.5" cy="226.7" r="2.5"/><circle cx="1055.9" cy="225.2" r="2.5"/><circle cx="1058.5" cy="225.4" r="2.5"/><circle cx="1056.1" cy="223.9" r="2.5"/><circle cx="1055.2" cy="223.0" r="2.5"/><circle cx="1057.7" cy="223.2" r="2.5"/><circle cx="1056.7" cy="222.3" r="2.5"/><circle cx="1054.3" cy="220.8" r="2.5"/><circle cx="1058.0" cy="221.4" r="2.5"/><circle cx="1060.5" cy="221.7" r="2.5"/><circle cx="1057.9" cy="220.1" r="2.5"/><circle cx="1056.1" cy="218.8" r="2.5"/><circle cx="1057.2" cy="218.6" r="2.5"/><circle cx="1056.5" cy="217.7" r="2.5"/><circle cx="1058.6" cy="217.8" r="2.5"/><circle cx="1057.4" cy="216.8" r="2.5"/><circle cx="1059.3" cy="216.8" r="2.5"/><circle cx="1060.1" cy="216.4" r="2.5"/><circle cx="1062.6" cy="216.7" r="2.5"/><circle cx="1057.8" cy="214.3" r="2.5"/><circle cx="1056.2" cy="213.1" r="2.5"/><circle cx="1063.8" cy="215.3" r="2.5"/><circle cx="1061.6" cy="213.8" r="2.5"/><circle cx="1060.2" cy="212.7" r="2.5"/><circle cx="1062.2" cy="212.8" r="2.5"/><circle cx="1059.5" cy="211.1" r="2.5"/><circle cx="1060.9" cy="211.0" r="2.5"/><circle cx="1063.2" cy="211.2" r="2.5"/><circle cx="1061.4" cy="209.9" r="2.5"/><circle cx="1062.5" cy="209.7" r="2.5"/><circle cx="1063.4" cy="209.4" r="2.5"/><circle cx="1062.9" cy="208.6" r="2.5"/><circle cx="1062.4" cy="207.7" r="2.5"/><circle cx="1064.2" cy="207.8" r="2.5"/><circle cx="1066.0" cy="207.9" r="2.5"/><circle cx="1066.1" cy="207.3" r="2.5"/><circle cx="1062.1" cy="205.0" r="2.5"/><circle cx="1065.6" cy="205.8" r="2.5"/><circle cx="1060.5" cy="203.0" r="2.5"/><circle cx="1061.7" cy="202.9" r="2.5"/><circle cx="1065.6" cy="203.8" r="2.5"/><circle cx="1066.1" cy="203.4" r="2.5"/><circle cx="1067.9" cy="203.6" r="2.5"/><circle cx="1062.1" cy="200.3" r="2.5"/><circle cx="1067.9" cy="202.2" r="2.5"/><circle cx="1064.9" cy="200.3" r="2.5"/><circle cx="1065.3" cy="199.8" r="2.5"/><circle cx="1067.4" cy="200.1" r="2.5"/><circle cx="1069.5" cy="200.4" r="2.5"/><circle cx="1065.2" cy="197.7" r="2.5"/><circle cx="1063.9" cy="196.4" r="2.5"/><circle cx="1066.4" cy="196.9" r="2.5"/><circle cx="1067.6" cy="196.8" r="2.5"/><circle cx="1070.3" cy="197.6" r="2.5"/><circle cx="1069.0" cy="196.2" r="2.5"/><circle cx="1068.0" cy="195.0" r="2.5"/><circle cx="1067.9" cy="194.3" r="2.5"/><circle cx="1068.2" cy="193.8" r="2.5"/><circle cx="1071.3" cy="194.7" r="2.5"/><circle cx="1066.5" cy="191.5" r="2.5"/><circle cx="1068.6" cy="192.0" r="2.5"/><circle cx="1068.6" cy="191.3" r="2.5"/><circle cx="1072.6" cy="192.7" r="2.5"/><circle cx="1071.0" cy="191.2" r="2.5"/><circle cx="1069.8" cy="189.9" r="2.5"/><circle cx="1072.8" cy="190.8" r="2.5"/><circle cx="1075.3" cy="191.5" r="2.5"/><circle cx="1073.8" cy="190.0" r="2.5"/><circle cx="1069.7" cy="187.1" r="2.5"/><circle cx="1072.1" cy="187.7" r="2.5"/><circle cx="1074.9" cy="188.5" r="2.5"/><circle cx="1069.6" cy="185.0" r="2.5"/><circle cx="1071.1" cy="185.0" r="2.5"/><circle cx="1072.9" cy="185.4" r="2.5"/><circle cx="1074.9" cy="185.8" r="2.5"/><circle cx="1072.7" cy="183.9" r="2.5"/><circle cx="1074.8" cy="184.4" r="2.5"/><circle cx="1074.5" cy="183.5" r="2.5"/><circle cx="1075.7" cy="183.5" r="2.5"/><circle cx="1073.2" cy="181.4" r="2.5"/><circle cx="1071.9" cy="180.0" r="2.5"/><circle cx="1072.2" cy="179.4" r="2.5"/><circle cx="1076.6" cy="181.3" r="2.5"/><circle cx="1078.4" cy="181.6" r="2.5"/><circle cx="1077.8" cy="180.6" r="2.5"/><circle cx="1074.2" cy="177.8" r="2.5"/><circle cx="1074.3" cy="177.1" r="2.5"/><circle cx="1077.3" cy="178.2" r="2.5"/><circle cx="1076.4" cy="177.0" r="2.5"/><circle cx="1075.0" cy="175.5" r="2.5"/><circle cx="1077.6" cy="176.3" r="2.5"/><circle cx="1077.6" cy="175.6" r="2.5"/><circle cx="1079.1" cy="175.8" r="2.5"/><circle cx="1080.3" cy="175.8" r="2.5"/><circle cx="1080.3" cy="175.1" r="2.5"/><circle cx="1080.6" cy="174.6" r="2.5"/><circle cx="1081.5" cy="174.4" r="2.5"/><circle cx="1080.7" cy="173.2" r="2.5"/><circle cx="1080.3" cy="172.3" r="2.5"/><circle cx="1080.8" cy="171.9" r="2.5"/><circle cx="1084.0" cy="173.1" r="2.5"/><circle cx="1081.6" cy="171.0" r="2.5"/><circle cx="1083.9" cy="171.7" r="2.5"/><circle cx="1085.8" cy="172.1" r="2.5"/><circle cx="1086.2" cy="171.7" r="2.5"/><circle cx="1079.6" cy="167.0" r="2.5"/><circle cx="1083.9" cy="168.9" r="2.5"/><circle cx="1085.8" cy="169.3" r="2.5"/><circle cx="1083.4" cy="167.2" r="2.5"/><circle cx="1083.3" cy="166.4" r="2.5"/><circle cx="1082.2" cy="165.1" r="2.5"/><circle cx="1083.9" cy="165.4" r="2.5"/><circle cx="1085.5" cy="165.6" r="2.5"/><circle cx="1082.3" cy="163.0" r="2.5"/><circle cx="1086.1" cy="164.6" r="2.5"/><circle cx="1084.9" cy="163.1" r="2.5"/><circle cx="1086.8" cy="163.6" r="2.5"/><circle cx="1085.0" cy="161.8" r="2.5"/><circle cx="1087.5" cy="162.6" r="2.5"/><circle cx="1087.9" cy="162.2" r="2.5"/><circle cx="1086.7" cy="160.7" r="2.5"/><circle cx="1087.0" cy="160.2" r="2.5"/><circle cx="1090.3" cy="161.5" r="2.5"/><circle cx="1090.0" cy="160.7" r="2.5"/><circle cx="1087.8" cy="158.6" r="2.5"/><circle cx="1090.3" cy="159.4" r="2.5"/><circle cx="1087.7" cy="157.1" r="2.5"/><circle cx="1089.2" cy="157.3" r="2.5"/><circle cx="1086.9" cy="155.0" r="2.5"/><circle cx="1089.8" cy="156.2" r="2.5"/><circle cx="1092.4" cy="157.2" r="2.5"/><circle cx="1090.6" cy="155.3" r="2.5"/><circle cx="1092.9" cy="156.1" r="2.5"/><circle cx="1091.0" cy="154.1" r="2.5"/><circle cx="1093.0" cy="154.8" r="2.5"/><circle cx="1092.6" cy="153.8" r="2.5"/><circle cx="1091.5" cy="152.2" r="2.5"/><circle cx="1097.0" cy="155.4" r="2.5"/><circle cx="1092.4" cy="151.4" r="2.5"/><circle cx="1091.9" cy="150.3" r="2.5"/><circle cx="1094.8" cy="151.7" r="2.5"/><circle cx="1095.8" cy="151.6" r="2.5"/><circle cx="1095.9" cy="151.0" r="2.5"/><circle cx="1095.4" cy="149.9" r="2.5"/><circle cx="1096.8" cy="150.1" r="2.5"/><circle cx="1098.0" cy="150.2" r="2.5"/><circle cx="1097.8" cy="149.3" r="2.5"/><circle cx="1094.5" cy="146.4" r="2.5"/><circle cx="1100.4" cy="149.6" r="2.5"/><circle cx="1097.6" cy="147.0" r="2.5"/><circle cx="1094.4" cy="144.2" r="2.5"/><circle cx="1099.8" cy="147.1" r="2.5"/><circle cx="1098.4" cy="145.4" r="2.5"/><circle cx="1099.5" cy="145.4" r="2.5"/><circle cx="1102.9" cy="146.9" r="2.5"/><circle cx="1098.7" cy="143.4" r="2.5"/><circle cx="1098.9" cy="142.8" r="2.5"/><circle cx="1098.6" cy="141.9" r="2.5"/><circle cx="1101.0" cy="142.8" r="2.5"/><circle cx="1102.2" cy="142.9" r="2.5"/><circle cx="1102.0" cy="142.0" r="2.5"/><circle cx="1102.0" cy="141.3" r="2.5"/><circle cx="1098.4" cy="138.2" r="2.5"/><circle cx="1102.8" cy="140.4" r="2.5"/><circle cx="1104.6" cy="140.9" r="2.5"/><circle cx="1102.1" cy="138.5" r="2.5"/><circle cx="1102.4" cy="137.9" r="2.5"/><circle cx="1101.8" cy="136.9" r="2.5"/><circle cx="1104.4" cy="137.9" r="2.5"/></g>
<g stroke="#8a1ff0" fill="#e9d8fd" stroke-width="1.3"><path d="M946.0,443.0 L946.6,442.9 L947.4,442.9 L948.4,442.8 L949.4,442.7 L950.6,442.6 L951.8,442.5 L953.0,442.4 L954.2,442.2 L955.5,442.1 L956.6,441.9 L957.7,441.7 L958.7,441.5 L959.6,441.3 L960.5,441.0 L961.3,440.7 L962.1,440.4 L962.9,440.1 L963.6,439.8 L964.4,439.4 L965.1,439.1 L965.8,438.7 L966.6,438.3 L967.3,437.9 L968.0,437.5 L968.7,437.1 L969.3,436.8 L969.9,436.5 L970.5,436.3 L971.0,436.0 L971.6,435.7 L972.2,435.3 L972.8,434.8 L973.5,434.2 L974.3,433.4 L975.2,432.5 L976.2,431.3 L977.3,429.9 L978.6,428.3 L980.0,426.4 L981.5,424.5 L983.0,422.4 L984.6,420.1 L986.2,417.9 L987.7,415.6 L989.3,413.2 L990.8,410.9 L992.3,408.7 L993.7,406.5 L995.0,404.4 L996.3,402.2 L997.5,400.0 L998.8,397.8 L999.9,395.6 L1001.1,393.4 L1002.3,391.2 L1003.5,389.0 L1004.6,386.8 L1005.8,384.6 L1007.0,382.4 L1008.2,380.3 L1009.4,378.2 L1010.6,376.1 L1011.8,374.1 L1013.1,372.0 L1014.3,370.0 L1015.5,368.0 L1016.7,366.0 L1017.9,363.9 L1019.1,361.9 L1020.4,359.8 L1021.6,357.7 L1022.8,355.5 L1024.0,353.3 L1025.2,351.1 L1026.3,348.9 L1027.5,346.7 L1028.6,344.5 L1029.8,342.3 L1031.0,340.0 L1032.2,337.7 L1033.4,335.3 L1034.7,332.9 L1036.0,330.5 L1037.4,328.0 L1038.9,325.4 L1040.3,322.8 L1041.9,320.0 L1043.5,317.3 L1045.1,314.4 L1046.7,311.6 L1048.4,308.7 L1050.1,305.9 L1051.8,303.1 L1053.5,300.3 L1055.3,297.6 L1057.0,295.0 L1058.8,292.4 L1060.6,289.9 L1062.4,287.4 L1064.3,285.0 L1066.2,282.5 L1068.1,280.1 L1070.0,277.7 L1071.8,275.3 L1073.7,273.0 L1075.5,270.7 L1077.3,268.3 L1079.0,266.0 L1080.7,263.6 L1082.3,261.2 L1083.9,258.8 L1085.5,256.4 L1087.0,253.9 L1088.5,251.5 L1090.0,249.2 L1091.5,247.0 L1093.0,244.8 L1094.5,242.8 L1095.9,241.0 L1097.4,239.3 L1098.8,237.8 L1100.2,236.5 L1101.6,235.3 L1102.9,234.3 L1104.2,233.3 L1105.5,232.5 L1106.9,231.7 L1108.2,231.0 L1109.6,230.3 L1111.1,229.5 L1112.6,228.8 L1114.2,228.0 L1115.8,227.2 L1117.5,226.4 L1119.2,225.6 L1120.9,224.8 L1122.6,224.0 L1124.4,223.2 L1126.2,222.5 L1128.2,221.8 L1130.2,221.2 L1132.2,220.6 L1134.4,220.1 L1136.7,219.7 L1139.2,219.3 L1141.8,219.1 L1144.6,218.8 L1147.6,218.7 L1150.6,218.6 L1153.6,218.5 L1156.7,218.4 L1159.7,218.4 L1162.6,218.4 L1165.4,218.4 L1168.0,218.3 L1170.4,218.3 L1172.7,218.2 L1174.8,218.2 L1177.0,218.1 L1179.0,218.0 L1180.9,218.0 L1182.8,217.9 L1184.5,217.9 L1186.2,217.9 L1187.7,217.9 L1189.1,218.0 L1190.4,218.1 L1191.5,218.3 L1192.5,218.5 L1193.3,218.8 L1194.0,219.0 L1194.6,219.4 L1195.1,219.7 L1195.4,220.1 L1195.7,220.5 L1195.9,220.9 L1196.0,221.4 L1196.0,221.9 L1196.0,222.4 L1196.0,223.0 L1195.9,223.6 L1195.7,224.2 L1195.4,224.9 L1195.0,225.6 L1194.5,226.3 L1194.0,227.1 L1193.4,227.9 L1192.8,228.7 L1192.1,229.5 L1191.4,230.3 L1190.7,231.2 L1190.0,232.0 L1189.3,232.8 L1188.5,233.6 L1187.6,234.4 L1186.7,235.2 L1185.8,236.0 L1184.8,236.8 L1183.9,237.7 L1182.9,238.6 L1181.9,239.6 L1180.9,240.6 L1179.9,241.8 L1179.0,243.0 L1178.1,244.3 L1177.1,245.8 L1176.2,247.3 L1175.2,249.0 L1174.3,250.6 L1173.3,252.4 L1172.4,254.1 L1171.4,255.9 L1170.4,257.7 L1169.5,259.5 L1168.5,261.3 L1167.6,263.0 L1166.7,264.7 L1165.8,266.4 L1164.9,268.0 L1164.0,269.7 L1163.1,271.3 L1162.2,273.0 L1161.3,274.7 L1160.3,276.4 L1159.4,278.2 L1158.4,280.1 L1157.4,282.0 L1156.4,284.0 L1155.3,286.1 L1154.2,288.3 L1153.0,290.5 L1151.8,292.8 L1150.6,295.2 L1149.4,297.6 L1148.1,300.0 L1146.9,302.4 L1145.7,304.8 L1144.5,307.3 L1143.4,309.6 L1142.3,312.0 L1141.3,314.4 L1140.3,316.7 L1139.3,319.1 L1138.4,321.6 L1137.5,324.0 L1136.6,326.4 L1135.7,328.8 L1134.8,331.1 L1133.9,333.4 L1132.9,335.7 L1132.0,337.9 L1131.0,340.0 L1130.0,342.0 L1129.0,343.9 L1128.0,345.6 L1127.0,347.3 L1126.0,349.0 L1125.0,350.6 L1124.0,352.3 L1122.9,354.0 L1121.8,355.8 L1120.7,357.7 L1119.5,359.8 L1118.3,362.0 L1117.0,364.4 L1115.7,366.9 L1114.3,369.6 L1112.9,372.4 L1111.4,375.2 L1109.9,378.1 L1108.4,381.1 L1106.9,384.1 L1105.4,387.1 L1103.9,390.1 L1102.5,393.1 L1101.0,396.0 L1099.5,399.0 L1098.0,402.2 L1096.5,405.4 L1095.0,408.7 L1093.4,412.0 L1091.9,415.3 L1090.4,418.5 L1088.9,421.6 L1087.5,424.6 L1086.1,427.3 L1084.9,429.8 L1083.7,432.0 L1082.6,433.9 L1081.6,435.6 L1080.6,437.1 L1079.7,438.3 L1078.9,439.5 L1078.1,440.4 L1077.3,441.3 L1076.6,442.1 L1075.9,442.9 L1075.3,443.6 L1074.6,444.3 L1074.0,445.0 L1073.4,445.7 L1072.8,446.4 L1072.3,446.9 L1071.8,447.4 L1071.3,447.9 L1070.9,448.3 L1070.5,448.7 L1070.1,449.0 L1069.8,449.3 L1069.5,449.5 L1069.2,449.8 L1069.0,450.0" stroke="#8a1ff0" stroke-width="8" fill="none" stroke-linejoin="round" stroke-linecap="round"/><circle cx="946.5" cy="442.7" r="2.4"/><circle cx="947.3" cy="446.9" r="2.4"/><circle cx="947.3" cy="440.8" r="2.4"/><circle cx="947.6" cy="438.1" r="2.4"/><circle cx="948.6" cy="443.5" r="2.4"/><circle cx="949.1" cy="444.5" r="2.4"/><circle cx="949.6" cy="443.8" r="2.4"/><circle cx="950.1" cy="444.2" r="2.4"/><circle cx="950.5" cy="442.5" r="2.4"/><circle cx="950.9" cy="441.2" r="2.4"/><circle cx="951.3" cy="440.7" r="2.4"/><circle cx="951.9" cy="442.1" r="2.4"/><circle cx="952.4" cy="441.7" r="2.4"/><circle cx="953.2" cy="445.1" r="2.4"/><circle cx="953.7" cy="444.2" r="2.4"/><circle cx="953.6" cy="439.2" r="2.4"/><circle cx="954.7" cy="444.3" r="2.4"/><circle cx="955.0" cy="442.3" r="2.4"/><circle cx="955.9" cy="445.3" r="2.4"/><circle cx="956.6" cy="446.2" r="2.4"/><circle cx="956.7" cy="443.7" r="2.4"/><circle cx="956.1" cy="437.5" r="2.4"/><circle cx="957.8" cy="443.8" r="2.4"/><circle cx="957.1" cy="437.9" r="2.4"/><circle cx="959.4" cy="445.9" r="2.4"/><circle cx="958.5" cy="440.0" r="2.4"/><circle cx="959.3" cy="441.1" r="2.4"/><circle cx="961.3" cy="446.1" r="2.4"/><circle cx="959.1" cy="436.8" r="2.4"/><circle cx="960.9" cy="441.2" r="2.4"/><circle cx="960.5" cy="438.3" r="2.4"/><circle cx="961.4" cy="439.5" r="2.4"/><circle cx="961.5" cy="438.7" r="2.4"/><circle cx="963.5" cy="442.2" r="2.4"/><circle cx="962.9" cy="439.5" r="2.4"/><circle cx="964.1" cy="440.9" r="2.4"/><circle cx="964.9" cy="441.4" r="2.4"/><circle cx="962.6" cy="435.5" r="2.4"/><circle cx="966.7" cy="442.8" r="2.4"/><circle cx="965.2" cy="438.6" r="2.4"/><circle cx="963.9" cy="435.1" r="2.4"/><circle cx="965.6" cy="437.2" r="2.4"/><circle cx="968.0" cy="440.5" r="2.4"/><circle cx="968.6" cy="440.6" r="2.4"/><circle cx="966.8" cy="436.4" r="2.4"/><circle cx="968.3" cy="438.0" r="2.4"/><circle cx="968.9" cy="438.1" r="2.4"/><circle cx="970.3" cy="439.8" r="2.4"/><circle cx="969.3" cy="436.7" r="2.4"/><circle cx="971.0" cy="439.3" r="2.4"/><circle cx="969.4" cy="434.5" r="2.4"/><circle cx="970.0" cy="434.7" r="2.4"/><circle cx="972.2" cy="437.8" r="2.4"/><circle cx="972.8" cy="437.6" r="2.4"/><circle cx="972.1" cy="435.6" r="2.4"/><circle cx="973.6" cy="436.7" r="2.4"/><circle cx="973.4" cy="435.5" r="2.4"/><circle cx="974.8" cy="436.3" r="2.4"/><circle cx="976.0" cy="436.6" r="2.4"/><circle cx="975.1" cy="435.0" r="2.4"/><circle cx="976.1" cy="435.3" r="2.4"/><circle cx="974.1" cy="432.6" r="2.4"/><circle cx="974.1" cy="431.9" r="2.4"/><circle cx="971.3" cy="428.9" r="2.4"/><circle cx="976.7" cy="432.9" r="2.4"/><circle cx="976.3" cy="431.8" r="2.4"/><circle cx="977.6" cy="432.3" r="2.4"/><circle cx="972.9" cy="427.8" r="2.4"/><circle cx="976.1" cy="429.8" r="2.4"/><circle cx="976.3" cy="429.3" r="2.4"/><circle cx="973.9" cy="426.8" r="2.4"/><circle cx="980.0" cy="431.0" r="2.4"/><circle cx="981.0" cy="431.1" r="2.4"/><circle cx="976.0" cy="426.5" r="2.4"/><circle cx="980.0" cy="429.0" r="2.4"/><circle cx="983.0" cy="430.7" r="2.4"/><circle cx="977.0" cy="425.5" r="2.4"/><circle cx="982.0" cy="428.7" r="2.4"/><circle cx="983.6" cy="429.3" r="2.4"/><circle cx="984.5" cy="429.2" r="2.4"/><circle cx="977.8" cy="423.7" r="2.4"/><circle cx="978.8" cy="423.7" r="2.4"/><circle cx="981.9" cy="425.4" r="2.4"/><circle cx="984.3" cy="426.6" r="2.4"/><circle cx="979.2" cy="422.2" r="2.4"/><circle cx="980.6" cy="422.6" r="2.4"/><circle cx="980.1" cy="421.7" r="2.4"/><circle cx="985.3" cy="424.8" r="2.4"/><circle cx="981.9" cy="421.7" r="2.4"/><circle cx="984.7" cy="423.1" r="2.4"/><circle cx="985.2" cy="422.8" r="2.4"/><circle cx="986.6" cy="423.2" r="2.4"/><circle cx="985.3" cy="421.7" r="2.4"/><circle cx="985.4" cy="421.1" r="2.4"/><circle cx="987.5" cy="422.0" r="2.4"/><circle cx="986.3" cy="420.5" r="2.4"/><circle cx="982.7" cy="417.4" r="2.4"/><circle cx="984.6" cy="418.1" r="2.4"/><circle cx="988.1" cy="419.9" r="2.4"/><circle cx="986.7" cy="418.3" r="2.4"/><circle cx="985.8" cy="417.2" r="2.4"/><circle cx="987.5" cy="417.7" r="2.4"/><circle cx="991.3" cy="419.7" r="2.4"/><circle cx="987.4" cy="416.4" r="2.4"/><circle cx="988.9" cy="416.8" r="2.4"/><circle cx="989.1" cy="416.4" r="2.4"/><circle cx="987.7" cy="414.8" r="2.4"/><circle cx="991.3" cy="416.6" r="2.4"/><circle cx="990.8" cy="415.7" r="2.4"/><circle cx="990.1" cy="414.6" r="2.4"/><circle cx="986.4" cy="411.5" r="2.4"/><circle cx="992.6" cy="415.1" r="2.4"/><circle cx="991.7" cy="413.9" r="2.4"/><circle cx="990.1" cy="412.2" r="2.4"/><circle cx="985.9" cy="408.8" r="2.4"/><circle cx="990.7" cy="411.4" r="2.4"/><circle cx="988.4" cy="409.3" r="2.4"/><circle cx="990.9" cy="410.3" r="2.4"/><circle cx="990.5" cy="409.5" r="2.4"/><circle cx="990.0" cy="408.6" r="2.4"/><circle cx="994.5" cy="410.9" r="2.4"/><circle cx="992.7" cy="409.2" r="2.4"/><circle cx="995.6" cy="410.4" r="2.4"/><circle cx="990.8" cy="406.7" r="2.4"/><circle cx="992.9" cy="407.4" r="2.4"/><circle cx="996.7" cy="409.3" r="2.4"/><circle cx="994.6" cy="407.4" r="2.4"/><circle cx="992.4" cy="405.4" r="2.4"/><circle cx="992.3" cy="404.8" r="2.4"/><circle cx="993.2" cy="404.7" r="2.4"/><circle cx="994.7" cy="405.0" r="2.4"/><circle cx="996.7" cy="405.7" r="2.4"/><circle cx="995.7" cy="404.5" r="2.4"/><circle cx="997.4" cy="404.9" r="2.4"/><circle cx="997.9" cy="404.6" r="2.4"/><circle cx="996.4" cy="403.2" r="2.4"/><circle cx="999.4" cy="404.4" r="2.4"/><circle cx="998.4" cy="403.1" r="2.4"/><circle cx="996.5" cy="401.5" r="2.4"/><circle cx="996.8" cy="401.1" r="2.4"/><circle cx="997.4" cy="400.8" r="2.4"/><circle cx="995.9" cy="399.4" r="2.4"/><circle cx="994.7" cy="398.2" r="2.4"/><circle cx="998.2" cy="399.6" r="2.4"/><circle cx="997.2" cy="398.4" r="2.4"/><circle cx="1000.0" cy="399.4" r="2.4"/><circle cx="997.5" cy="397.4" r="2.4"/><circle cx="999.4" cy="397.9" r="2.4"/><circle cx="999.8" cy="397.6" r="2.4"/><circle cx="998.5" cy="396.3" r="2.4"/><circle cx="1000.3" cy="396.7" r="2.4"/><circle cx="998.3" cy="395.1" r="2.4"/><circle cx="999.3" cy="395.0" r="2.4"/><circle cx="1002.5" cy="396.2" r="2.4"/><circle cx="1001.7" cy="395.2" r="2.4"/><circle cx="1001.0" cy="394.3" r="2.4"/><circle cx="999.4" cy="392.8" r="2.4"/><circle cx="1003.2" cy="394.3" r="2.4"/><circle cx="1006.1" cy="395.3" r="2.4"/><circle cx="997.0" cy="389.9" r="2.4"/><circle cx="1004.7" cy="393.4" r="2.4"/><circle cx="1002.9" cy="391.9" r="2.4"/><circle cx="1005.3" cy="392.6" r="2.4"/><circle cx="1005.7" cy="392.2" r="2.4"/><circle cx="1000.7" cy="389.0" r="2.4"/><circle cx="1007.5" cy="392.0" r="2.4"/><circle cx="1002.2" cy="388.6" r="2.4"/><circle cx="1003.2" cy="388.6" r="2.4"/><circle cx="1005.6" cy="389.3" r="2.4"/><circle cx="1004.1" cy="388.0" r="2.4"/><circle cx="1005.2" cy="388.0" r="2.4"/><circle cx="1003.5" cy="386.5" r="2.4"/><circle cx="1002.5" cy="385.4" r="2.4"/><circle cx="1005.3" cy="386.3" r="2.4"/><circle cx="1002.8" cy="384.5" r="2.4"/><circle cx="1008.9" cy="387.2" r="2.4"/><circle cx="1006.5" cy="385.3" r="2.4"/><circle cx="1009.5" cy="386.4" r="2.4"/><circle cx="1003.4" cy="382.5" r="2.4"/><circle cx="1001.8" cy="381.0" r="2.4"/><circle cx="1002.0" cy="380.5" r="2.4"/><circle cx="1006.2" cy="382.3" r="2.4"/><circle cx="1004.3" cy="380.6" r="2.4"/><circle cx="1008.5" cy="382.4" r="2.4"/><circle cx="1004.4" cy="379.5" r="2.4"/><circle cx="1004.8" cy="379.2" r="2.4"/><circle cx="1009.0" cy="381.0" r="2.4"/><circle cx="1007.7" cy="379.6" r="2.4"/><circle cx="1010.4" cy="380.7" r="2.4"/><circle cx="1011.0" cy="380.4" r="2.4"/><circle cx="1010.2" cy="379.4" r="2.4"/><circle cx="1006.7" cy="376.8" r="2.4"/><circle cx="1007.8" cy="376.8" r="2.4"/><circle cx="1014.4" cy="380.1" r="2.4"/><circle cx="1009.8" cy="376.8" r="2.4"/><circle cx="1011.3" cy="377.1" r="2.4"/><circle cx="1011.1" cy="376.5" r="2.4"/><circle cx="1011.0" cy="375.8" r="2.4"/><circle cx="1011.0" cy="375.2" r="2.4"/><circle cx="1010.3" cy="374.2" r="2.4"/><circle cx="1010.7" cy="373.9" r="2.4"/><circle cx="1007.4" cy="371.3" r="2.4"/><circle cx="1016.3" cy="376.0" r="2.4"/><circle cx="1012.4" cy="373.1" r="2.4"/><circle cx="1009.8" cy="371.0" r="2.4"/><circle cx="1014.4" cy="373.1" r="2.4"/><circle cx="1015.0" cy="372.9" r="2.4"/><circle cx="1010.3" cy="369.5" r="2.4"/><circle cx="1012.7" cy="370.4" r="2.4"/><circle cx="1017.7" cy="372.8" r="2.4"/><circle cx="1015.7" cy="371.0" r="2.4"/><circle cx="1015.7" cy="370.5" r="2.4"/><circle cx="1017.3" cy="370.8" r="2.4"/><circle cx="1014.9" cy="368.8" r="2.4"/><circle cx="1014.8" cy="368.2" r="2.4"/><circle cx="1019.4" cy="370.4" r="2.4"/><circle cx="1015.6" cy="367.5" r="2.4"/><circle cx="1016.1" cy="367.2" r="2.4"/><circle cx="1018.0" cy="367.7" r="2.4"/><circle cx="1016.8" cy="366.5" r="2.4"/><circle cx="1014.1" cy="364.3" r="2.4"/><circle cx="1021.6" cy="368.1" r="2.4"/><circle cx="1017.4" cy="365.0" r="2.4"/><circle cx="1022.0" cy="367.2" r="2.4"/><circle cx="1019.2" cy="365.0" r="2.4"/><circle cx="1016.2" cy="362.6" r="2.4"/><circle cx="1022.2" cy="365.6" r="2.4"/><circle cx="1018.4" cy="362.7" r="2.4"/><circle cx="1017.1" cy="361.4" r="2.4"/><circle cx="1019.3" cy="362.1" r="2.4"/><circle cx="1014.8" cy="358.9" r="2.4"/><circle cx="1020.8" cy="361.8" r="2.4"/><circle cx="1018.4" cy="359.8" r="2.4"/><circle cx="1019.7" cy="360.1" r="2.4"/><circle cx="1018.5" cy="358.7" r="2.4"/><circle cx="1022.4" cy="360.4" r="2.4"/><circle cx="1021.9" cy="359.6" r="2.4"/><circle cx="1023.9" cy="360.1" r="2.4"/><circle cx="1025.5" cy="360.5" r="2.4"/><circle cx="1022.5" cy="358.2" r="2.4"/><circle cx="1022.3" cy="357.5" r="2.4"/><circle cx="1023.0" cy="357.3" r="2.4"/><circle cx="1020.6" cy="355.4" r="2.4"/><circle cx="1021.5" cy="355.3" r="2.4"/><circle cx="1024.9" cy="356.6" r="2.4"/><circle cx="1021.3" cy="354.1" r="2.4"/><circle cx="1018.9" cy="352.2" r="2.4"/><circle cx="1022.9" cy="353.8" r="2.4"/><circle cx="1024.6" cy="354.2" r="2.4"/><circle cx="1027.8" cy="355.3" r="2.4"/><circle cx="1022.8" cy="352.1" r="2.4"/><circle cx="1022.5" cy="351.3" r="2.4"/><circle cx="1025.2" cy="352.2" r="2.4"/><circle cx="1024.8" cy="351.5" r="2.4"/><circle cx="1026.0" cy="351.5" r="2.4"/><circle cx="1024.4" cy="350.1" r="2.4"/><circle cx="1026.4" cy="350.6" r="2.4"/><circle cx="1024.8" cy="349.2" r="2.4"/><circle cx="1028.7" cy="350.7" r="2.4"/><circle cx="1027.3" cy="349.4" r="2.4"/><circle cx="1028.2" cy="349.3" r="2.4"/><circle cx="1026.0" cy="347.6" r="2.4"/><circle cx="1023.9" cy="345.9" r="2.4"/><circle cx="1027.6" cy="347.2" r="2.4"/><circle cx="1027.6" cy="346.7" r="2.4"/><circle cx="1030.6" cy="347.7" r="2.4"/><circle cx="1030.5" cy="347.1" r="2.4"/><circle cx="1028.4" cy="345.4" r="2.4"/><circle cx="1028.6" cy="345.0" r="2.4"/><circle cx="1026.5" cy="343.3" r="2.4"/><circle cx="1029.0" cy="344.1" r="2.4"/><circle cx="1029.9" cy="343.9" r="2.4"/><circle cx="1028.6" cy="342.7" r="2.4"/><circle cx="1027.2" cy="341.4" r="2.4"/><circle cx="1033.1" cy="343.9" r="2.4"/><circle cx="1028.1" cy="340.7" r="2.4"/><circle cx="1034.5" cy="343.5" r="2.4"/><circle cx="1033.6" cy="342.5" r="2.4"/><circle cx="1034.7" cy="342.5" r="2.4"/><circle cx="1029.2" cy="339.1" r="2.4"/><circle cx="1032.9" cy="340.5" r="2.4"/><circle cx="1028.3" cy="337.5" r="2.4"/><circle cx="1031.0" cy="338.3" r="2.4"/><circle cx="1028.5" cy="336.4" r="2.4"/><circle cx="1030.6" cy="337.0" r="2.4"/><circle cx="1031.4" cy="336.8" r="2.4"/><circle cx="1035.1" cy="338.2" r="2.4"/><circle cx="1035.6" cy="337.9" r="2.4"/><circle cx="1032.4" cy="335.7" r="2.4"/><circle cx="1032.8" cy="335.3" r="2.4"/><circle cx="1031.5" cy="334.0" r="2.4"/><circle cx="1031.3" cy="333.3" r="2.4"/><circle cx="1030.0" cy="332.1" r="2.4"/><circle cx="1033.9" cy="333.6" r="2.4"/><circle cx="1036.1" cy="334.2" r="2.4"/><circle cx="1033.1" cy="332.0" r="2.4"/><circle cx="1036.0" cy="333.1" r="2.4"/><circle cx="1032.7" cy="330.7" r="2.4"/><circle cx="1033.2" cy="330.4" r="2.4"/><circle cx="1034.6" cy="330.6" r="2.4"/><circle cx="1038.2" cy="332.0" r="2.4"/><circle cx="1035.1" cy="329.7" r="2.4"/><circle cx="1038.4" cy="331.0" r="2.4"/><circle cx="1036.0" cy="329.1" r="2.4"/><circle cx="1034.5" cy="327.6" r="2.4"/><circle cx="1032.6" cy="326.0" r="2.4"/><circle cx="1036.4" cy="327.6" r="2.4"/><circle cx="1035.5" cy="326.5" r="2.4"/><circle cx="1040.2" cy="328.5" r="2.4"/><circle cx="1039.3" cy="327.5" r="2.4"/><circle cx="1034.7" cy="324.3" r="2.4"/><circle cx="1040.7" cy="327.1" r="2.4"/><circle cx="1040.3" cy="326.3" r="2.4"/><circle cx="1034.4" cy="322.4" r="2.4"/><circle cx="1037.1" cy="323.3" r="2.4"/><circle cx="1040.3" cy="324.6" r="2.4"/><circle cx="1036.3" cy="321.8" r="2.4"/><circle cx="1038.5" cy="322.5" r="2.4"/><circle cx="1041.7" cy="323.7" r="2.4"/><circle cx="1041.3" cy="322.9" r="2.4"/><circle cx="1042.0" cy="322.7" r="2.4"/><circle cx="1042.7" cy="322.5" r="2.4"/><circle cx="1039.4" cy="320.1" r="2.4"/><circle cx="1046.1" cy="323.3" r="2.4"/><circle cx="1043.2" cy="321.1" r="2.4"/><circle cx="1046.6" cy="322.4" r="2.4"/><circle cx="1041.8" cy="319.1" r="2.4"/><circle cx="1044.0" cy="319.8" r="2.4"/><circle cx="1043.7" cy="319.1" r="2.4"/><circle cx="1042.8" cy="318.0" r="2.4"/><circle cx="1044.2" cy="318.2" r="2.4"/><circle cx="1044.3" cy="317.7" r="2.4"/><circle cx="1045.8" cy="318.0" r="2.4"/><circle cx="1044.9" cy="316.9" r="2.4"/><circle cx="1044.6" cy="316.1" r="2.4"/><circle cx="1045.8" cy="316.2" r="2.4"/><circle cx="1048.3" cy="317.1" r="2.4"/><circle cx="1045.3" cy="314.8" r="2.4"/><circle cx="1046.8" cy="315.1" r="2.4"/><circle cx="1046.0" cy="314.0" r="2.4"/><circle cx="1041.4" cy="310.8" r="2.4"/><circle cx="1044.1" cy="311.8" r="2.4"/><circle cx="1044.3" cy="311.3" r="2.4"/><circle cx="1043.5" cy="310.3" r="2.4"/><circle cx="1045.5" cy="310.9" r="2.4"/><circle cx="1043.1" cy="308.9" r="2.4"/><circle cx="1048.0" cy="311.2" r="2.4"/><circle cx="1046.4" cy="309.7" r="2.4"/><circle cx="1050.8" cy="311.6" r="2.4"/><circle cx="1049.1" cy="310.1" r="2.4"/><circle cx="1045.5" cy="307.4" r="2.4"/><circle cx="1048.2" cy="308.4" r="2.4"/><circle cx="1049.1" cy="308.3" r="2.4"/><circle cx="1047.6" cy="306.9" r="2.4"/><circle cx="1048.6" cy="306.9" r="2.4"/><circle cx="1047.2" cy="305.5" r="2.4"/><circle cx="1048.3" cy="305.5" r="2.4"/><circle cx="1050.9" cy="306.5" r="2.4"/><circle cx="1049.7" cy="305.2" r="2.4"/><circle cx="1053.5" cy="306.9" r="2.4"/><circle cx="1046.3" cy="302.0" r="2.4"/><circle cx="1049.5" cy="303.3" r="2.4"/><circle cx="1050.7" cy="303.4" r="2.4"/><circle cx="1055.1" cy="305.6" r="2.4"/><circle cx="1054.6" cy="304.7" r="2.4"/><circle cx="1054.0" cy="303.7" r="2.4"/><circle cx="1054.8" cy="303.6" r="2.4"/><circle cx="1056.4" cy="304.1" r="2.4"/><circle cx="1054.6" cy="302.4" r="2.4"/><circle cx="1052.8" cy="300.6" r="2.4"/><circle cx="1054.0" cy="300.8" r="2.4"/><circle cx="1052.3" cy="299.1" r="2.4"/><circle cx="1053.6" cy="299.4" r="2.4"/><circle cx="1055.2" cy="299.8" r="2.4"/><circle cx="1053.6" cy="298.1" r="2.4"/><circle cx="1055.2" cy="298.6" r="2.4"/><circle cx="1054.2" cy="297.4" r="2.4"/><circle cx="1052.6" cy="295.7" r="2.4"/><circle cx="1052.6" cy="295.1" r="2.4"/><circle cx="1057.6" cy="297.8" r="2.4"/><circle cx="1056.4" cy="296.4" r="2.4"/><circle cx="1058.4" cy="297.1" r="2.4"/><circle cx="1056.6" cy="295.4" r="2.4"/><circle cx="1057.1" cy="295.1" r="2.4"/><circle cx="1058.0" cy="295.1" r="2.4"/><circle cx="1057.0" cy="293.8" r="2.4"/><circle cx="1061.0" cy="295.9" r="2.4"/><circle cx="1060.4" cy="294.9" r="2.4"/><circle cx="1059.4" cy="293.6" r="2.4"/><circle cx="1056.5" cy="291.0" r="2.4"/><circle cx="1057.9" cy="291.4" r="2.4"/><circle cx="1059.8" cy="292.1" r="2.4"/><circle cx="1062.2" cy="293.2" r="2.4"/><circle cx="1059.9" cy="290.9" r="2.4"/><circle cx="1060.2" cy="290.5" r="2.4"/><circle cx="1061.7" cy="291.0" r="2.4"/><circle cx="1061.1" cy="289.9" r="2.4"/><circle cx="1060.8" cy="289.1" r="2.4"/><circle cx="1059.0" cy="287.2" r="2.4"/><circle cx="1064.3" cy="290.5" r="2.4"/><circle cx="1061.9" cy="288.1" r="2.4"/><circle cx="1061.2" cy="286.9" r="2.4"/><circle cx="1062.4" cy="287.2" r="2.4"/><circle cx="1060.1" cy="284.8" r="2.4"/><circle cx="1059.7" cy="283.8" r="2.4"/><circle cx="1059.7" cy="283.3" r="2.4"/><circle cx="1064.6" cy="286.3" r="2.4"/><circle cx="1061.3" cy="283.2" r="2.4"/><circle cx="1064.6" cy="285.1" r="2.4"/><circle cx="1062.2" cy="282.6" r="2.4"/><circle cx="1061.3" cy="281.3" r="2.4"/><circle cx="1064.0" cy="282.7" r="2.4"/><circle cx="1064.1" cy="282.2" r="2.4"/><circle cx="1064.5" cy="281.8" r="2.4"/><circle cx="1069.8" cy="285.4" r="2.4"/><circle cx="1067.0" cy="282.5" r="2.4"/><circle cx="1065.6" cy="280.8" r="2.4"/><circle cx="1069.0" cy="282.8" r="2.4"/><circle cx="1066.8" cy="280.5" r="2.4"/><circle cx="1070.3" cy="282.6" r="2.4"/><circle cx="1064.8" cy="277.6" r="2.4"/><circle cx="1070.6" cy="281.6" r="2.4"/><circle cx="1066.4" cy="277.6" r="2.4"/><circle cx="1067.5" cy="277.8" r="2.4"/><circle cx="1069.7" cy="279.0" r="2.4"/><circle cx="1067.4" cy="276.5" r="2.4"/><circle cx="1066.5" cy="275.1" r="2.4"/><circle cx="1069.4" cy="276.8" r="2.4"/><circle cx="1069.9" cy="276.6" r="2.4"/><circle cx="1067.4" cy="274.0" r="2.4"/><circle cx="1073.2" cy="277.9" r="2.4"/><circle cx="1069.8" cy="274.5" r="2.4"/><circle cx="1070.5" cy="274.5" r="2.4"/><circle cx="1071.6" cy="274.7" r="2.4"/><circle cx="1072.5" cy="274.8" r="2.4"/><circle cx="1074.9" cy="276.0" r="2.4"/><circle cx="1068.8" cy="270.6" r="2.4"/><circle cx="1073.3" cy="273.5" r="2.4"/><circle cx="1075.5" cy="274.6" r="2.4"/><circle cx="1074.4" cy="273.1" r="2.4"/><circle cx="1074.1" cy="272.2" r="2.4"/><circle cx="1072.2" cy="270.1" r="2.4"/><circle cx="1075.6" cy="272.1" r="2.4"/><circle cx="1074.1" cy="270.3" r="2.4"/><circle cx="1075.7" cy="271.0" r="2.4"/><circle cx="1073.5" cy="268.6" r="2.4"/><circle cx="1075.4" cy="269.4" r="2.4"/><circle cx="1076.1" cy="269.3" r="2.4"/><circle cx="1073.5" cy="266.8" r="2.4"/><circle cx="1079.1" cy="270.4" r="2.4"/><circle cx="1077.0" cy="268.2" r="2.4"/><circle cx="1074.8" cy="265.9" r="2.4"/><circle cx="1077.3" cy="267.1" r="2.4"/><circle cx="1078.4" cy="267.3" r="2.4"/><circle cx="1077.7" cy="266.2" r="2.4"/><circle cx="1076.6" cy="264.7" r="2.4"/><circle cx="1078.6" cy="265.6" r="2.4"/><circle cx="1076.4" cy="263.4" r="2.4"/><circle cx="1076.0" cy="262.6" r="2.4"/><circle cx="1082.5" cy="266.5" r="2.4"/><circle cx="1083.9" cy="266.9" r="2.4"/><circle cx="1084.5" cy="266.7" r="2.4"/><circle cx="1085.2" cy="266.4" r="2.4"/><circle cx="1084.0" cy="265.1" r="2.4"/><circle cx="1079.3" cy="261.3" r="2.4"/><circle cx="1080.4" cy="261.4" r="2.4"/><circle cx="1084.3" cy="263.5" r="2.4"/><circle cx="1081.1" cy="260.7" r="2.4"/><circle cx="1081.7" cy="260.5" r="2.4"/><circle cx="1082.7" cy="260.5" r="2.4"/><circle cx="1083.9" cy="260.8" r="2.4"/><circle cx="1080.3" cy="257.8" r="2.4"/><circle cx="1083.6" cy="259.4" r="2.4"/><circle cx="1084.9" cy="259.6" r="2.4"/><circle cx="1079.6" cy="255.6" r="2.4"/><circle cx="1086.9" cy="259.7" r="2.4"/><circle cx="1086.4" cy="258.7" r="2.4"/><circle cx="1083.1" cy="256.1" r="2.4"/><circle cx="1089.3" cy="259.4" r="2.4"/><circle cx="1086.4" cy="257.0" r="2.4"/><circle cx="1086.8" cy="256.6" r="2.4"/><circle cx="1089.4" cy="257.7" r="2.4"/><circle cx="1081.8" cy="252.3" r="2.4"/><circle cx="1086.5" cy="254.7" r="2.4"/><circle cx="1089.2" cy="255.8" r="2.4"/><circle cx="1090.2" cy="255.9" r="2.4"/><circle cx="1087.2" cy="253.4" r="2.4"/><circle cx="1087.2" cy="252.7" r="2.4"/><circle cx="1086.2" cy="251.5" r="2.4"/><circle cx="1087.4" cy="251.7" r="2.4"/><circle cx="1086.5" cy="250.5" r="2.4"/><circle cx="1084.2" cy="248.4" r="2.4"/><circle cx="1087.6" cy="250.1" r="2.4"/><circle cx="1087.0" cy="249.0" r="2.4"/><circle cx="1088.1" cy="249.2" r="2.4"/><circle cx="1088.7" cy="249.0" r="2.4"/><circle cx="1089.0" cy="248.5" r="2.4"/><circle cx="1090.5" cy="248.9" r="2.4"/><circle cx="1090.4" cy="248.3" r="2.4"/><circle cx="1090.1" cy="247.4" r="2.4"/><circle cx="1089.8" cy="246.6" r="2.4"/><circle cx="1091.2" cy="247.0" r="2.4"/><circle cx="1091.0" cy="246.2" r="2.4"/><circle cx="1091.7" cy="246.1" r="2.4"/><circle cx="1095.3" cy="248.0" r="2.4"/><circle cx="1093.1" cy="245.8" r="2.4"/><circle cx="1092.0" cy="244.5" r="2.4"/><circle cx="1088.8" cy="241.5" r="2.4"/><circle cx="1090.3" cy="242.0" r="2.4"/><circle cx="1089.4" cy="240.7" r="2.4"/><circle cx="1095.9" cy="244.8" r="2.4"/><circle cx="1096.7" cy="244.8" r="2.4"/><circle cx="1093.8" cy="242.0" r="2.4"/><circle cx="1093.9" cy="241.5" r="2.4"/><circle cx="1096.2" cy="242.7" r="2.4"/><circle cx="1096.7" cy="242.4" r="2.4"/><circle cx="1092.2" cy="238.2" r="2.4"/><circle cx="1095.7" cy="240.3" r="2.4"/><circle cx="1095.9" cy="239.8" r="2.4"/><circle cx="1094.3" cy="237.8" r="2.4"/><circle cx="1100.0" cy="242.0" r="2.4"/><circle cx="1098.9" cy="240.6" r="2.4"/><circle cx="1096.7" cy="237.7" r="2.4"/><circle cx="1098.1" cy="238.4" r="2.4"/><circle cx="1097.5" cy="237.1" r="2.4"/><circle cx="1098.0" cy="236.8" r="2.4"/><circle cx="1098.5" cy="236.7" r="2.4"/><circle cx="1101.5" cy="239.0" r="2.4"/><circle cx="1100.0" cy="236.7" r="2.4"/><circle cx="1099.5" cy="235.4" r="2.4"/><circle cx="1099.5" cy="234.7" r="2.4"/><circle cx="1101.5" cy="236.3" r="2.4"/><circle cx="1100.0" cy="233.7" r="2.4"/><circle cx="1099.2" cy="231.7" r="2.4"/><circle cx="1102.0" cy="234.5" r="2.4"/><circle cx="1105.2" cy="237.8" r="2.4"/><circle cx="1102.0" cy="232.7" r="2.4"/><circle cx="1103.7" cy="234.2" r="2.4"/><circle cx="1103.6" cy="233.2" r="2.4"/><circle cx="1106.0" cy="236.1" r="2.4"/><circle cx="1105.4" cy="234.1" r="2.4"/><circle cx="1103.3" cy="229.9" r="2.4"/><circle cx="1108.0" cy="236.4" r="2.4"/><circle cx="1106.0" cy="232.3" r="2.4"/><circle cx="1105.2" cy="229.9" r="2.4"/><circle cx="1106.1" cy="230.6" r="2.4"/><circle cx="1107.3" cy="231.6" r="2.4"/><circle cx="1109.1" cy="233.8" r="2.4"/><circle cx="1107.8" cy="230.4" r="2.4"/><circle cx="1107.7" cy="229.0" r="2.4"/><circle cx="1110.6" cy="233.7" r="2.4"/><circle cx="1111.4" cy="234.0" r="2.4"/><circle cx="1109.5" cy="229.3" r="2.4"/><circle cx="1110.5" cy="230.2" r="2.4"/><circle cx="1111.3" cy="230.6" r="2.4"/><circle cx="1110.9" cy="228.7" r="2.4"/><circle cx="1110.6" cy="227.0" r="2.4"/><circle cx="1113.4" cy="231.5" r="2.4"/><circle cx="1111.3" cy="226.2" r="2.4"/><circle cx="1110.9" cy="224.2" r="2.4"/><circle cx="1114.2" cy="229.7" r="2.4"/><circle cx="1115.3" cy="230.9" r="2.4"/><circle cx="1115.4" cy="229.8" r="2.4"/><circle cx="1113.9" cy="225.8" r="2.4"/><circle cx="1115.0" cy="226.9" r="2.4"/><circle cx="1114.5" cy="224.6" r="2.4"/><circle cx="1115.6" cy="225.8" r="2.4"/><circle cx="1114.3" cy="222.0" r="2.4"/><circle cx="1116.1" cy="224.5" r="2.4"/><circle cx="1119.1" cy="229.6" r="2.4"/><circle cx="1116.6" cy="223.3" r="2.4"/><circle cx="1120.4" cy="230.0" r="2.4"/><circle cx="1119.1" cy="226.1" r="2.4"/><circle cx="1117.1" cy="220.7" r="2.4"/><circle cx="1120.9" cy="227.5" r="2.4"/><circle cx="1119.2" cy="222.7" r="2.4"/><circle cx="1121.3" cy="226.2" r="2.4"/><circle cx="1121.0" cy="224.2" r="2.4"/><circle cx="1121.2" cy="223.6" r="2.4"/><circle cx="1121.9" cy="223.8" r="2.4"/><circle cx="1121.1" cy="220.8" r="2.4"/><circle cx="1122.2" cy="222.0" r="2.4"/><circle cx="1123.0" cy="222.6" r="2.4"/><circle cx="1125.7" cy="227.8" r="2.4"/><circle cx="1123.8" cy="221.8" r="2.4"/><circle cx="1125.1" cy="223.9" r="2.4"/><circle cx="1125.7" cy="224.0" r="2.4"/><circle cx="1126.9" cy="225.7" r="2.4"/><circle cx="1126.0" cy="221.9" r="2.4"/><circle cx="1126.9" cy="222.9" r="2.4"/><circle cx="1126.4" cy="219.9" r="2.4"/><circle cx="1129.4" cy="227.0" r="2.4"/><circle cx="1126.8" cy="218.1" r="2.4"/><circle cx="1128.8" cy="222.4" r="2.4"/><circle cx="1128.8" cy="220.7" r="2.4"/><circle cx="1129.7" cy="221.8" r="2.4"/><circle cx="1129.6" cy="219.9" r="2.4"/><circle cx="1130.2" cy="220.0" r="2.4"/><circle cx="1131.7" cy="223.5" r="2.4"/><circle cx="1132.1" cy="223.3" r="2.4"/><circle cx="1131.9" cy="220.6" r="2.4"/><circle cx="1132.4" cy="220.3" r="2.4"/><circle cx="1133.0" cy="221.0" r="2.4"/><circle cx="1133.4" cy="220.2" r="2.4"/><circle cx="1134.2" cy="221.4" r="2.4"/><circle cx="1134.9" cy="222.1" r="2.4"/><circle cx="1135.1" cy="221.3" r="2.4"/><circle cx="1134.6" cy="215.9" r="2.4"/><circle cx="1135.8" cy="219.7" r="2.4"/><circle cx="1135.8" cy="217.0" r="2.4"/><circle cx="1137.0" cy="220.9" r="2.4"/><circle cx="1137.2" cy="218.9" r="2.4"/><circle cx="1138.0" cy="220.3" r="2.4"/><circle cx="1138.3" cy="219.3" r="2.4"/><circle cx="1139.2" cy="221.9" r="2.4"/><circle cx="1139.7" cy="222.9" r="2.4"/><circle cx="1139.9" cy="219.8" r="2.4"/><circle cx="1139.9" cy="215.3" r="2.4"/><circle cx="1140.8" cy="219.2" r="2.4"/><circle cx="1141.9" cy="224.4" r="2.4"/><circle cx="1141.6" cy="217.3" r="2.4"/><circle cx="1142.3" cy="218.8" r="2.4"/><circle cx="1143.2" cy="224.3" r="2.4"/><circle cx="1143.6" cy="223.5" r="2.4"/><circle cx="1143.9" cy="220.6" r="2.4"/><circle cx="1144.3" cy="219.5" r="2.4"/><circle cx="1144.6" cy="215.4" r="2.4"/><circle cx="1145.5" cy="223.2" r="2.4"/><circle cx="1145.9" cy="221.2" r="2.4"/><circle cx="1146.0" cy="214.3" r="2.4"/><circle cx="1146.8" cy="218.4" r="2.4"/><circle cx="1147.3" cy="218.4" r="2.4"/><circle cx="1147.8" cy="218.5" r="2.4"/><circle cx="1148.2" cy="216.9" r="2.4"/><circle cx="1149.0" cy="223.9" r="2.4"/><circle cx="1149.2" cy="216.3" r="2.4"/><circle cx="1149.9" cy="222.5" r="2.4"/><circle cx="1150.4" cy="220.3" r="2.4"/><circle cx="1150.8" cy="218.6" r="2.4"/><circle cx="1151.3" cy="219.8" r="2.4"/><circle cx="1151.8" cy="220.5" r="2.4"/><circle cx="1152.2" cy="216.5" r="2.4"/><circle cx="1152.8" cy="217.6" r="2.4"/><circle cx="1153.4" cy="221.8" r="2.4"/><circle cx="1153.8" cy="221.0" r="2.4"/><circle cx="1154.3" cy="219.6" r="2.4"/><circle cx="1154.7" cy="215.3" r="2.4"/><circle cx="1155.2" cy="214.2" r="2.4"/><circle cx="1155.8" cy="222.5" r="2.4"/><circle cx="1156.3" cy="222.3" r="2.4"/><circle cx="1156.8" cy="219.9" r="2.4"/><circle cx="1157.3" cy="219.5" r="2.4"/><circle cx="1157.8" cy="217.6" r="2.4"/><circle cx="1158.3" cy="219.8" r="2.4"/><circle cx="1158.8" cy="221.7" r="2.4"/><circle cx="1159.3" cy="220.5" r="2.4"/><circle cx="1159.8" cy="217.0" r="2.4"/><circle cx="1160.3" cy="219.4" r="2.4"/><circle cx="1160.8" cy="217.0" r="2.4"/><circle cx="1161.3" cy="218.3" r="2.4"/><circle cx="1161.8" cy="215.5" r="2.4"/><circle cx="1162.3" cy="213.1" r="2.4"/><circle cx="1162.8" cy="215.7" r="2.4"/><circle cx="1163.3" cy="219.0" r="2.4"/><circle cx="1163.8" cy="216.3" r="2.4"/><circle cx="1164.3" cy="219.9" r="2.4"/><circle cx="1164.8" cy="217.0" r="2.4"/><circle cx="1165.3" cy="219.2" r="2.4"/><circle cx="1165.8" cy="217.2" r="2.4"/><circle cx="1166.3" cy="222.3" r="2.4"/><circle cx="1166.8" cy="217.4" r="2.4"/><circle cx="1167.3" cy="218.5" r="2.4"/><circle cx="1167.8" cy="221.5" r="2.4"/><circle cx="1168.4" cy="222.4" r="2.4"/><circle cx="1168.7" cy="215.3" r="2.4"/><circle cx="1169.4" cy="222.3" r="2.4"/><circle cx="1169.7" cy="215.6" r="2.4"/><circle cx="1170.2" cy="215.8" r="2.4"/><circle cx="1170.7" cy="216.1" r="2.4"/><circle cx="1171.4" cy="221.0" r="2.4"/><circle cx="1171.7" cy="215.5" r="2.4"/><circle cx="1172.3" cy="219.9" r="2.4"/><circle cx="1172.8" cy="219.4" r="2.4"/><circle cx="1173.3" cy="217.8" r="2.4"/><circle cx="1173.8" cy="219.5" r="2.4"/><circle cx="1174.5" cy="223.5" r="2.4"/><circle cx="1174.9" cy="222.5" r="2.4"/><circle cx="1175.2" cy="216.0" r="2.4"/><circle cx="1175.8" cy="218.9" r="2.4"/><circle cx="1176.2" cy="217.2" r="2.4"/><circle cx="1176.8" cy="217.8" r="2.4"/><circle cx="1177.2" cy="216.7" r="2.4"/><circle cx="1177.8" cy="219.6" r="2.4"/><circle cx="1178.2" cy="215.9" r="2.4"/><circle cx="1178.7" cy="214.8" r="2.4"/><circle cx="1179.3" cy="218.2" r="2.4"/><circle cx="1179.8" cy="218.9" r="2.4"/><circle cx="1180.4" cy="221.3" r="2.4"/><circle cx="1180.8" cy="219.8" r="2.4"/><circle cx="1181.2" cy="215.8" r="2.4"/><circle cx="1181.7" cy="215.6" r="2.4"/><circle cx="1182.3" cy="218.9" r="2.4"/><circle cx="1182.8" cy="218.7" r="2.4"/><circle cx="1183.3" cy="219.9" r="2.4"/><circle cx="1183.8" cy="221.5" r="2.4"/><circle cx="1184.2" cy="212.6" r="2.4"/><circle cx="1184.8" cy="216.4" r="2.4"/><circle cx="1185.3" cy="219.4" r="2.4"/><circle cx="1185.8" cy="215.1" r="2.4"/><circle cx="1186.2" cy="222.4" r="2.4"/><circle cx="1186.8" cy="217.8" r="2.4"/><circle cx="1187.2" cy="219.6" r="2.4"/><circle cx="1187.8" cy="217.5" r="2.4"/><circle cx="1188.2" cy="219.0" r="2.4"/><circle cx="1188.7" cy="219.2" r="2.4"/><circle cx="1189.1" cy="219.6" r="2.4"/><circle cx="1190.1" cy="214.5" r="2.4"/><circle cx="1190.7" cy="213.2" r="2.4"/><circle cx="1190.8" cy="218.1" r="2.4"/><circle cx="1190.9" cy="220.4" r="2.4"/><circle cx="1191.9" cy="217.8" r="2.4"/><circle cx="1192.3" cy="218.1" r="2.4"/><circle cx="1191.9" cy="221.4" r="2.4"/><circle cx="1192.7" cy="220.5" r="2.4"/><circle cx="1194.6" cy="216.7" r="2.4"/><circle cx="1193.9" cy="219.6" r="2.4"/><circle cx="1194.8" cy="218.9" r="2.4"/><circle cx="1194.8" cy="219.8" r="2.4"/><circle cx="1195.4" cy="219.9" r="2.4"/><circle cx="1194.2" cy="221.3" r="2.4"/><circle cx="1195.8" cy="220.9" r="2.4"/><circle cx="1195.0" cy="221.5" r="2.4"/><circle cx="1195.8" cy="221.8" r="2.4"/><circle cx="1196.5" cy="222.3" r="2.4"/><circle cx="1197.4" cy="222.9" r="2.4"/><circle cx="1195.1" cy="223.1" r="2.4"/><circle cx="1194.6" cy="223.4" r="2.4"/><circle cx="1191.8" cy="222.5" r="2.4"/><circle cx="1190.6" cy="222.5" r="2.4"/><circle cx="1196.7" cy="226.0" r="2.4"/><circle cx="1196.4" cy="226.4" r="2.4"/><circle cx="1192.3" cy="224.5" r="2.4"/><circle cx="1195.2" cy="227.0" r="2.4"/><circle cx="1193.8" cy="226.6" r="2.4"/><circle cx="1196.5" cy="229.2" r="2.4"/><circle cx="1192.2" cy="226.6" r="2.4"/><circle cx="1196.2" cy="230.3" r="2.4"/><circle cx="1190.8" cy="226.7" r="2.4"/><circle cx="1194.3" cy="230.1" r="2.4"/><circle cx="1191.8" cy="228.8" r="2.4"/><circle cx="1189.9" cy="227.9" r="2.4"/><circle cx="1193.3" cy="231.3" r="2.4"/><circle cx="1191.5" cy="230.5" r="2.4"/><circle cx="1187.0" cy="227.3" r="2.4"/><circle cx="1193.5" cy="233.4" r="2.4"/><circle cx="1190.1" cy="231.2" r="2.4"/><circle cx="1194.0" cy="235.2" r="2.4"/><circle cx="1189.0" cy="231.6" r="2.4"/><circle cx="1189.7" cy="232.9" r="2.4"/><circle cx="1191.1" cy="235.0" r="2.4"/><circle cx="1190.8" cy="235.5" r="2.4"/><circle cx="1186.0" cy="231.2" r="2.4"/><circle cx="1186.7" cy="232.7" r="2.4"/><circle cx="1189.7" cy="236.6" r="2.4"/><circle cx="1185.8" cy="233.0" r="2.4"/><circle cx="1188.4" cy="236.8" r="2.4"/><circle cx="1187.8" cy="236.9" r="2.4"/><circle cx="1185.3" cy="234.8" r="2.4"/><circle cx="1185.9" cy="236.2" r="2.4"/><circle cx="1184.4" cy="235.2" r="2.4"/><circle cx="1183.0" cy="234.4" r="2.4"/><circle cx="1185.6" cy="238.2" r="2.4"/><circle cx="1183.2" cy="236.2" r="2.4"/><circle cx="1183.2" cy="237.0" r="2.4"/><circle cx="1186.4" cy="241.1" r="2.4"/><circle cx="1181.6" cy="236.7" r="2.4"/><circle cx="1180.8" cy="236.7" r="2.4"/><circle cx="1184.9" cy="241.6" r="2.4"/><circle cx="1182.6" cy="239.9" r="2.4"/><circle cx="1179.7" cy="237.9" r="2.4"/><circle cx="1179.6" cy="238.4" r="2.4"/><circle cx="1181.6" cy="241.1" r="2.4"/><circle cx="1181.1" cy="241.2" r="2.4"/><circle cx="1180.9" cy="241.7" r="2.4"/><circle cx="1182.4" cy="243.7" r="2.4"/><circle cx="1179.4" cy="241.8" r="2.4"/><circle cx="1175.2" cy="239.2" r="2.4"/><circle cx="1182.0" cy="245.0" r="2.4"/><circle cx="1178.8" cy="243.2" r="2.4"/><circle cx="1180.5" cy="245.0" r="2.4"/><circle cx="1174.9" cy="241.7" r="2.4"/><circle cx="1181.5" cy="246.8" r="2.4"/><circle cx="1175.6" cy="243.5" r="2.4"/><circle cx="1176.4" cy="244.6" r="2.4"/><circle cx="1179.0" cy="246.9" r="2.4"/><circle cx="1177.5" cy="246.5" r="2.4"/><circle cx="1176.4" cy="246.4" r="2.4"/><circle cx="1172.4" cy="244.6" r="2.4"/><circle cx="1175.4" cy="247.0" r="2.4"/><circle cx="1173.1" cy="246.2" r="2.4"/><circle cx="1173.1" cy="246.8" r="2.4"/><circle cx="1175.0" cy="248.5" r="2.4"/><circle cx="1174.9" cy="249.0" r="2.4"/><circle cx="1174.9" cy="249.6" r="2.4"/><circle cx="1170.8" cy="247.8" r="2.4"/><circle cx="1171.3" cy="248.7" r="2.4"/><circle cx="1171.8" cy="249.6" r="2.4"/><circle cx="1175.3" cy="252.1" r="2.4"/><circle cx="1174.2" cy="252.1" r="2.4"/><circle cx="1171.5" cy="251.2" r="2.4"/><circle cx="1173.5" cy="252.8" r="2.4"/><circle cx="1176.0" cy="254.7" r="2.4"/><circle cx="1176.1" cy="255.4" r="2.4"/><circle cx="1171.3" cy="253.3" r="2.4"/><circle cx="1170.3" cy="253.4" r="2.4"/><circle cx="1170.6" cy="254.1" r="2.4"/><circle cx="1168.0" cy="253.3" r="2.4"/><circle cx="1175.1" cy="257.6" r="2.4"/><circle cx="1175.3" cy="258.3" r="2.4"/><circle cx="1170.7" cy="256.4" r="2.4"/><circle cx="1168.7" cy="255.9" r="2.4"/><circle cx="1172.4" cy="258.5" r="2.4"/><circle cx="1169.6" cy="257.6" r="2.4"/><circle cx="1169.2" cy="257.9" r="2.4"/><circle cx="1170.9" cy="259.4" r="2.4"/><circle cx="1171.5" cy="260.3" r="2.4"/><circle cx="1170.1" cy="260.1" r="2.4"/><circle cx="1169.3" cy="260.2" r="2.4"/><circle cx="1167.1" cy="259.6" r="2.4"/><circle cx="1169.3" cy="261.3" r="2.4"/><circle cx="1170.6" cy="262.6" r="2.4"/><circle cx="1170.6" cy="263.2" r="2.4"/><circle cx="1168.9" cy="262.9" r="2.4"/><circle cx="1166.5" cy="262.1" r="2.4"/><circle cx="1169.4" cy="264.3" r="2.4"/><circle cx="1168.0" cy="264.1" r="2.4"/><circle cx="1165.7" cy="263.4" r="2.4"/><circle cx="1166.1" cy="264.2" r="2.4"/><circle cx="1161.9" cy="262.4" r="2.4"/><circle cx="1165.1" cy="264.7" r="2.4"/><circle cx="1164.5" cy="265.0" r="2.4"/><circle cx="1161.1" cy="263.7" r="2.4"/><circle cx="1169.8" cy="269.1" r="2.4"/><circle cx="1169.3" cy="269.3" r="2.4"/><circle cx="1166.8" cy="268.6" r="2.4"/><circle cx="1164.5" cy="267.9" r="2.4"/><circle cx="1161.8" cy="267.0" r="2.4"/><circle cx="1162.7" cy="268.0" r="2.4"/><circle cx="1165.3" cy="270.0" r="2.4"/><circle cx="1167.2" cy="271.6" r="2.4"/><circle cx="1162.8" cy="269.8" r="2.4"/><circle cx="1164.0" cy="271.0" r="2.4"/><circle cx="1165.4" cy="272.3" r="2.4"/><circle cx="1165.8" cy="273.1" r="2.4"/><circle cx="1161.0" cy="271.1" r="2.4"/><circle cx="1163.1" cy="272.8" r="2.4"/><circle cx="1161.7" cy="272.6" r="2.4"/><circle cx="1162.2" cy="273.4" r="2.4"/><circle cx="1163.5" cy="274.7" r="2.4"/><circle cx="1162.6" cy="274.8" r="2.4"/><circle cx="1162.7" cy="275.4" r="2.4"/><circle cx="1161.2" cy="275.2" r="2.4"/><circle cx="1162.4" cy="276.4" r="2.4"/><circle cx="1159.2" cy="275.2" r="2.4"/><circle cx="1162.7" cy="277.6" r="2.4"/><circle cx="1159.6" cy="276.6" r="2.4"/><circle cx="1159.6" cy="277.2" r="2.4"/><circle cx="1158.3" cy="277.0" r="2.4"/><circle cx="1164.1" cy="280.7" r="2.4"/><circle cx="1157.7" cy="277.9" r="2.4"/><circle cx="1158.2" cy="278.7" r="2.4"/><circle cx="1159.8" cy="280.1" r="2.4"/><circle cx="1159.4" cy="280.4" r="2.4"/><circle cx="1159.3" cy="280.9" r="2.4"/><circle cx="1161.6" cy="282.7" r="2.4"/><circle cx="1153.1" cy="278.8" r="2.4"/><circle cx="1158.2" cy="282.0" r="2.4"/><circle cx="1156.4" cy="281.7" r="2.4"/><circle cx="1160.0" cy="284.1" r="2.4"/><circle cx="1158.1" cy="283.7" r="2.4"/><circle cx="1161.4" cy="285.9" r="2.4"/><circle cx="1156.8" cy="284.1" r="2.4"/><circle cx="1158.4" cy="285.6" r="2.4"/><circle cx="1156.1" cy="284.9" r="2.4"/><circle cx="1154.9" cy="284.9" r="2.4"/><circle cx="1152.5" cy="284.2" r="2.4"/><circle cx="1155.4" cy="286.2" r="2.4"/><circle cx="1157.8" cy="288.1" r="2.4"/><circle cx="1156.2" cy="287.8" r="2.4"/><circle cx="1153.4" cy="286.9" r="2.4"/><circle cx="1150.3" cy="285.8" r="2.4"/><circle cx="1158.8" cy="290.8" r="2.4"/><circle cx="1157.1" cy="290.5" r="2.4"/><circle cx="1155.5" cy="290.3" r="2.4"/><circle cx="1154.0" cy="290.0" r="2.4"/><circle cx="1152.0" cy="289.5" r="2.4"/><circle cx="1149.9" cy="289.0" r="2.4"/><circle cx="1151.6" cy="290.5" r="2.4"/><circle cx="1149.4" cy="289.9" r="2.4"/><circle cx="1154.1" cy="292.9" r="2.4"/><circle cx="1154.2" cy="293.5" r="2.4"/><circle cx="1155.9" cy="295.0" r="2.4"/><circle cx="1153.7" cy="294.4" r="2.4"/><circle cx="1150.0" cy="293.0" r="2.4"/><circle cx="1151.4" cy="294.3" r="2.4"/><circle cx="1146.5" cy="292.3" r="2.4"/><circle cx="1151.7" cy="295.6" r="2.4"/><circle cx="1153.1" cy="296.9" r="2.4"/><circle cx="1149.3" cy="295.4" r="2.4"/><circle cx="1154.7" cy="298.8" r="2.4"/><circle cx="1148.1" cy="296.0" r="2.4"/><circle cx="1149.0" cy="297.0" r="2.4"/><circle cx="1152.9" cy="299.6" r="2.4"/><circle cx="1148.3" cy="297.8" r="2.4"/><circle cx="1148.7" cy="298.5" r="2.4"/><circle cx="1146.1" cy="297.7" r="2.4"/><circle cx="1149.4" cy="300.0" r="2.4"/><circle cx="1149.8" cy="300.8" r="2.4"/><circle cx="1148.3" cy="300.6" r="2.4"/><circle cx="1148.4" cy="301.2" r="2.4"/><circle cx="1150.3" cy="302.7" r="2.4"/><circle cx="1145.5" cy="300.8" r="2.4"/><circle cx="1145.2" cy="301.2" r="2.4"/><circle cx="1148.9" cy="303.7" r="2.4"/><circle cx="1148.4" cy="303.9" r="2.4"/><circle cx="1149.4" cy="305.0" r="2.4"/><circle cx="1147.7" cy="304.7" r="2.4"/><circle cx="1148.0" cy="305.4" r="2.4"/><circle cx="1146.2" cy="305.1" r="2.4"/><circle cx="1144.3" cy="304.8" r="2.4"/><circle cx="1142.1" cy="304.2" r="2.4"/><circle cx="1147.7" cy="307.5" r="2.4"/><circle cx="1147.1" cy="307.8" r="2.4"/><circle cx="1147.8" cy="308.7" r="2.4"/><circle cx="1145.0" cy="307.8" r="2.4"/><circle cx="1142.8" cy="307.4" r="2.4"/><circle cx="1146.6" cy="309.7" r="2.4"/><circle cx="1144.3" cy="309.2" r="2.4"/><circle cx="1146.4" cy="310.7" r="2.4"/><circle cx="1147.2" cy="311.6" r="2.4"/><circle cx="1144.9" cy="311.1" r="2.4"/><circle cx="1141.4" cy="310.0" r="2.4"/><circle cx="1144.1" cy="311.8" r="2.4"/><circle cx="1147.3" cy="313.8" r="2.4"/><circle cx="1145.2" cy="313.4" r="2.4"/><circle cx="1143.4" cy="313.1" r="2.4"/><circle cx="1137.6" cy="311.1" r="2.4"/><circle cx="1145.1" cy="315.0" r="2.4"/><circle cx="1136.6" cy="311.8" r="2.4"/><circle cx="1139.4" cy="313.6" r="2.4"/><circle cx="1138.5" cy="313.8" r="2.4"/><circle cx="1139.1" cy="314.6" r="2.4"/><circle cx="1145.6" cy="317.8" r="2.4"/><circle cx="1140.5" cy="316.2" r="2.4"/><circle cx="1140.2" cy="316.6" r="2.4"/><circle cx="1139.4" cy="316.8" r="2.4"/><circle cx="1137.3" cy="316.6" r="2.4"/><circle cx="1140.4" cy="318.4" r="2.4"/><circle cx="1142.1" cy="319.5" r="2.4"/><circle cx="1138.7" cy="318.7" r="2.4"/><circle cx="1139.3" cy="319.5" r="2.4"/><circle cx="1138.4" cy="319.7" r="2.4"/><circle cx="1140.4" cy="321.0" r="2.4"/><circle cx="1139.2" cy="321.1" r="2.4"/><circle cx="1143.4" cy="323.2" r="2.4"/><circle cx="1138.3" cy="321.8" r="2.4"/><circle cx="1136.0" cy="321.5" r="2.4"/><circle cx="1138.2" cy="322.8" r="2.4"/><circle cx="1138.4" cy="323.4" r="2.4"/><circle cx="1136.5" cy="323.3" r="2.4"/><circle cx="1138.6" cy="324.6" r="2.4"/><circle cx="1138.2" cy="325.0" r="2.4"/><circle cx="1133.2" cy="323.6" r="2.4"/><circle cx="1132.9" cy="324.1" r="2.4"/><circle cx="1141.6" cy="327.8" r="2.4"/><circle cx="1138.4" cy="327.2" r="2.4"/><circle cx="1136.0" cy="326.8" r="2.4"/><circle cx="1134.7" cy="326.8" r="2.4"/><circle cx="1139.4" cy="329.1" r="2.4"/><circle cx="1137.6" cy="329.0" r="2.4"/><circle cx="1134.4" cy="328.3" r="2.4"/><circle cx="1132.8" cy="328.3" r="2.4"/><circle cx="1138.0" cy="330.8" r="2.4"/><circle cx="1136.2" cy="330.6" r="2.4"/><circle cx="1136.0" cy="331.1" r="2.4"/><circle cx="1132.3" cy="330.2" r="2.4"/><circle cx="1133.7" cy="331.3" r="2.4"/><circle cx="1133.7" cy="331.8" r="2.4"/><circle cx="1129.8" cy="330.8" r="2.4"/><circle cx="1132.3" cy="332.3" r="2.4"/><circle cx="1133.8" cy="333.5" r="2.4"/><circle cx="1130.0" cy="332.4" r="2.4"/><circle cx="1129.6" cy="332.8" r="2.4"/><circle cx="1129.9" cy="333.5" r="2.4"/><circle cx="1128.7" cy="333.5" r="2.4"/><circle cx="1132.1" cy="335.5" r="2.4"/><circle cx="1137.5" cy="338.4" r="2.4"/><circle cx="1133.5" cy="337.2" r="2.4"/><circle cx="1132.0" cy="337.0" r="2.4"/><circle cx="1132.3" cy="337.7" r="2.4"/><circle cx="1130.2" cy="337.3" r="2.4"/><circle cx="1131.1" cy="338.3" r="2.4"/><circle cx="1126.8" cy="336.9" r="2.4"/><circle cx="1129.9" cy="338.8" r="2.4"/><circle cx="1128.8" cy="338.9" r="2.4"/><circle cx="1128.0" cy="339.0" r="2.4"/><circle cx="1127.1" cy="339.1" r="2.4"/><circle cx="1131.6" cy="341.9" r="2.4"/><circle cx="1126.7" cy="340.0" r="2.4"/><circle cx="1130.0" cy="342.2" r="2.4"/><circle cx="1134.4" cy="345.1" r="2.4"/><circle cx="1125.4" cy="340.9" r="2.4"/><circle cx="1128.6" cy="343.1" r="2.4"/><circle cx="1126.1" cy="342.3" r="2.4"/><circle cx="1131.3" cy="345.7" r="2.4"/><circle cx="1127.0" cy="344.0" r="2.4"/><circle cx="1130.0" cy="346.2" r="2.4"/><circle cx="1123.4" cy="343.0" r="2.4"/><circle cx="1124.2" cy="344.0" r="2.4"/><circle cx="1127.7" cy="346.6" r="2.4"/><circle cx="1131.8" cy="349.6" r="2.4"/><circle cx="1126.9" cy="347.3" r="2.4"/><circle cx="1126.1" cy="347.4" r="2.4"/><circle cx="1126.7" cy="348.4" r="2.4"/><circle cx="1125.4" cy="348.2" r="2.4"/><circle cx="1126.7" cy="349.5" r="2.4"/><circle cx="1124.3" cy="348.6" r="2.4"/><circle cx="1124.5" cy="349.3" r="2.4"/><circle cx="1127.0" cy="351.5" r="2.4"/><circle cx="1123.0" cy="349.6" r="2.4"/><circle cx="1123.4" cy="350.4" r="2.4"/><circle cx="1124.8" cy="351.9" r="2.4"/><circle cx="1125.7" cy="353.1" r="2.4"/><circle cx="1126.0" cy="353.8" r="2.4"/><circle cx="1119.1" cy="350.1" r="2.4"/><circle cx="1118.8" cy="350.5" r="2.4"/><circle cx="1121.3" cy="352.7" r="2.4"/><circle cx="1123.9" cy="354.8" r="2.4"/><circle cx="1120.9" cy="353.6" r="2.4"/><circle cx="1124.1" cy="356.1" r="2.4"/><circle cx="1124.4" cy="356.9" r="2.4"/><circle cx="1126.3" cy="358.6" r="2.4"/><circle cx="1122.9" cy="357.1" r="2.4"/><circle cx="1122.9" cy="357.7" r="2.4"/><circle cx="1118.6" cy="355.8" r="2.4"/><circle cx="1119.9" cy="357.1" r="2.4"/><circle cx="1122.1" cy="359.0" r="2.4"/><circle cx="1121.1" cy="359.0" r="2.4"/><circle cx="1120.4" cy="359.1" r="2.4"/><circle cx="1120.0" cy="359.5" r="2.4"/><circle cx="1119.6" cy="359.8" r="2.4"/><circle cx="1116.6" cy="358.8" r="2.4"/><circle cx="1122.6" cy="362.6" r="2.4"/><circle cx="1118.4" cy="360.9" r="2.4"/><circle cx="1118.3" cy="361.4" r="2.4"/><circle cx="1116.4" cy="361.0" r="2.4"/><circle cx="1118.3" cy="362.5" r="2.4"/><circle cx="1119.7" cy="363.9" r="2.4"/><circle cx="1115.7" cy="362.3" r="2.4"/><circle cx="1114.7" cy="362.3" r="2.4"/><circle cx="1119.0" cy="365.2" r="2.4"/><circle cx="1114.4" cy="363.3" r="2.4"/><circle cx="1112.0" cy="362.6" r="2.4"/><circle cx="1117.6" cy="366.1" r="2.4"/><circle cx="1114.6" cy="365.1" r="2.4"/><circle cx="1120.7" cy="368.9" r="2.4"/><circle cx="1115.1" cy="366.5" r="2.4"/><circle cx="1117.6" cy="368.4" r="2.4"/><circle cx="1114.2" cy="367.1" r="2.4"/><circle cx="1115.5" cy="368.4" r="2.4"/><circle cx="1114.1" cy="368.2" r="2.4"/><circle cx="1111.9" cy="367.7" r="2.4"/><circle cx="1112.1" cy="368.3" r="2.4"/><circle cx="1111.9" cy="368.8" r="2.4"/><circle cx="1115.4" cy="371.2" r="2.4"/><circle cx="1114.1" cy="371.1" r="2.4"/><circle cx="1113.5" cy="371.3" r="2.4"/><circle cx="1114.2" cy="372.2" r="2.4"/><circle cx="1114.9" cy="373.1" r="2.4"/><circle cx="1112.6" cy="372.5" r="2.4"/><circle cx="1111.3" cy="372.4" r="2.4"/><circle cx="1112.8" cy="373.8" r="2.4"/><circle cx="1114.8" cy="375.3" r="2.4"/><circle cx="1109.3" cy="373.1" r="2.4"/><circle cx="1113.1" cy="375.6" r="2.4"/><circle cx="1107.2" cy="373.2" r="2.4"/><circle cx="1110.4" cy="375.4" r="2.4"/><circle cx="1110.3" cy="375.9" r="2.4"/><circle cx="1107.7" cy="375.1" r="2.4"/><circle cx="1110.2" cy="376.9" r="2.4"/><circle cx="1113.2" cy="379.0" r="2.4"/><circle cx="1109.6" cy="377.8" r="2.4"/><circle cx="1114.5" cy="380.8" r="2.4"/><circle cx="1108.7" cy="378.4" r="2.4"/><circle cx="1109.1" cy="379.2" r="2.4"/><circle cx="1107.8" cy="379.1" r="2.4"/><circle cx="1108.8" cy="380.2" r="2.4"/><circle cx="1104.2" cy="378.4" r="2.4"/><circle cx="1108.0" cy="380.9" r="2.4"/><circle cx="1109.3" cy="382.1" r="2.4"/><circle cx="1103.3" cy="379.6" r="2.4"/><circle cx="1107.7" cy="382.4" r="2.4"/><circle cx="1105.7" cy="381.9" r="2.4"/><circle cx="1107.7" cy="383.5" r="2.4"/><circle cx="1107.8" cy="384.1" r="2.4"/><circle cx="1107.0" cy="384.3" r="2.4"/><circle cx="1108.1" cy="385.4" r="2.4"/><circle cx="1106.5" cy="385.1" r="2.4"/><circle cx="1106.8" cy="385.8" r="2.4"/><circle cx="1107.2" cy="386.6" r="2.4"/><circle cx="1107.7" cy="387.4" r="2.4"/><circle cx="1106.4" cy="387.3" r="2.4"/><circle cx="1110.0" cy="389.7" r="2.4"/><circle cx="1104.4" cy="387.5" r="2.4"/><circle cx="1109.6" cy="390.6" r="2.4"/><circle cx="1105.6" cy="389.1" r="2.4"/><circle cx="1104.7" cy="389.3" r="2.4"/><circle cx="1105.9" cy="390.4" r="2.4"/><circle cx="1104.0" cy="390.1" r="2.4"/><circle cx="1099.4" cy="388.3" r="2.4"/><circle cx="1103.3" cy="390.8" r="2.4"/><circle cx="1104.6" cy="392.0" r="2.4"/><circle cx="1102.3" cy="391.4" r="2.4"/><circle cx="1104.7" cy="393.2" r="2.4"/><circle cx="1107.2" cy="395.0" r="2.4"/><circle cx="1104.5" cy="394.2" r="2.4"/><circle cx="1100.9" cy="393.0" r="2.4"/><circle cx="1102.7" cy="394.4" r="2.4"/><circle cx="1100.6" cy="393.9" r="2.4"/><circle cx="1100.1" cy="394.2" r="2.4"/><circle cx="1106.0" cy="397.7" r="2.4"/><circle cx="1104.9" cy="397.7" r="2.4"/><circle cx="1103.2" cy="397.4" r="2.4"/><circle cx="1104.0" cy="398.4" r="2.4"/><circle cx="1099.2" cy="396.6" r="2.4"/><circle cx="1102.6" cy="398.8" r="2.4"/><circle cx="1103.0" cy="399.6" r="2.4"/><circle cx="1096.8" cy="397.1" r="2.4"/><circle cx="1103.1" cy="400.7" r="2.4"/><circle cx="1102.7" cy="401.1" r="2.4"/><circle cx="1096.4" cy="398.6" r="2.4"/><circle cx="1098.9" cy="400.4" r="2.4"/><circle cx="1099.4" cy="401.1" r="2.4"/><circle cx="1097.4" cy="400.7" r="2.4"/><circle cx="1100.0" cy="402.6" r="2.4"/><circle cx="1099.1" cy="402.7" r="2.4"/><circle cx="1099.0" cy="403.1" r="2.4"/><circle cx="1095.0" cy="401.8" r="2.4"/><circle cx="1097.9" cy="403.7" r="2.4"/><circle cx="1100.8" cy="405.6" r="2.4"/><circle cx="1100.3" cy="406.0" r="2.4"/><circle cx="1095.9" cy="404.5" r="2.4"/><circle cx="1100.2" cy="407.0" r="2.4"/><circle cx="1100.1" cy="407.6" r="2.4"/><circle cx="1098.0" cy="407.1" r="2.4"/><circle cx="1100.2" cy="408.7" r="2.4"/><circle cx="1095.4" cy="407.0" r="2.4"/><circle cx="1090.8" cy="405.4" r="2.4"/><circle cx="1090.9" cy="406.0" r="2.4"/><circle cx="1094.9" cy="408.4" r="2.4"/><circle cx="1091.6" cy="407.4" r="2.4"/><circle cx="1094.3" cy="409.2" r="2.4"/><circle cx="1094.6" cy="409.9" r="2.4"/><circle cx="1092.8" cy="409.6" r="2.4"/><circle cx="1094.1" cy="410.8" r="2.4"/><circle cx="1095.1" cy="411.8" r="2.4"/><circle cx="1094.0" cy="411.9" r="2.4"/><circle cx="1094.3" cy="412.5" r="2.4"/><circle cx="1092.5" cy="412.3" r="2.4"/><circle cx="1090.6" cy="411.9" r="2.4"/><circle cx="1095.9" cy="414.9" r="2.4"/><circle cx="1094.0" cy="414.6" r="2.4"/><circle cx="1095.4" cy="415.8" r="2.4"/><circle cx="1088.4" cy="413.1" r="2.4"/><circle cx="1090.3" cy="414.6" r="2.4"/><circle cx="1091.4" cy="415.6" r="2.4"/><circle cx="1094.1" cy="417.4" r="2.4"/><circle cx="1089.2" cy="415.7" r="2.4"/><circle cx="1093.9" cy="418.4" r="2.4"/><circle cx="1095.0" cy="419.5" r="2.4"/><circle cx="1092.6" cy="418.9" r="2.4"/><circle cx="1087.6" cy="417.2" r="2.4"/><circle cx="1090.7" cy="419.1" r="2.4"/><circle cx="1091.3" cy="420.0" r="2.4"/><circle cx="1091.5" cy="420.6" r="2.4"/><circle cx="1087.6" cy="419.4" r="2.4"/><circle cx="1091.7" cy="421.8" r="2.4"/><circle cx="1090.9" cy="422.0" r="2.4"/><circle cx="1087.9" cy="421.1" r="2.4"/><circle cx="1087.5" cy="421.5" r="2.4"/><circle cx="1089.0" cy="422.7" r="2.4"/><circle cx="1087.4" cy="422.5" r="2.4"/><circle cx="1087.4" cy="423.1" r="2.4"/><circle cx="1092.6" cy="426.2" r="2.4"/><circle cx="1087.8" cy="424.4" r="2.4"/><circle cx="1089.1" cy="425.6" r="2.4"/><circle cx="1087.7" cy="425.5" r="2.4"/><circle cx="1087.3" cy="425.8" r="2.4"/><circle cx="1086.3" cy="425.9" r="2.4"/><circle cx="1084.7" cy="425.7" r="2.4"/><circle cx="1088.9" cy="428.3" r="2.4"/><circle cx="1087.9" cy="428.4" r="2.4"/><circle cx="1087.2" cy="428.6" r="2.4"/><circle cx="1086.0" cy="428.5" r="2.4"/><circle cx="1089.3" cy="430.8" r="2.4"/><circle cx="1085.2" cy="429.3" r="2.4"/><circle cx="1083.3" cy="428.9" r="2.4"/><circle cx="1086.3" cy="431.0" r="2.4"/><circle cx="1089.0" cy="433.0" r="2.4"/><circle cx="1082.7" cy="430.2" r="2.4"/><circle cx="1080.9" cy="429.8" r="2.4"/><circle cx="1082.9" cy="431.4" r="2.4"/><circle cx="1080.2" cy="430.4" r="2.4"/><circle cx="1080.8" cy="431.3" r="2.4"/><circle cx="1083.4" cy="433.4" r="2.4"/><circle cx="1083.6" cy="434.1" r="2.4"/><circle cx="1078.0" cy="431.3" r="2.4"/><circle cx="1080.8" cy="433.6" r="2.4"/><circle cx="1083.0" cy="435.6" r="2.4"/><circle cx="1078.9" cy="433.6" r="2.4"/><circle cx="1083.4" cy="437.0" r="2.4"/><circle cx="1082.3" cy="436.9" r="2.4"/><circle cx="1078.0" cy="434.7" r="2.4"/><circle cx="1078.6" cy="435.7" r="2.4"/><circle cx="1081.5" cy="438.3" r="2.4"/><circle cx="1078.1" cy="436.5" r="2.4"/><circle cx="1078.2" cy="437.1" r="2.4"/><circle cx="1083.7" cy="441.9" r="2.4"/><circle cx="1079.6" cy="439.4" r="2.4"/><circle cx="1077.0" cy="438.0" r="2.4"/><circle cx="1078.2" cy="439.5" r="2.4"/><circle cx="1080.5" cy="442.0" r="2.4"/><circle cx="1076.4" cy="439.3" r="2.4"/><circle cx="1078.8" cy="442.0" r="2.4"/><circle cx="1075.8" cy="440.0" r="2.4"/><circle cx="1076.4" cy="441.3" r="2.4"/><circle cx="1074.5" cy="440.2" r="2.4"/><circle cx="1077.8" cy="443.9" r="2.4"/><circle cx="1072.4" cy="439.5" r="2.4"/><circle cx="1076.2" cy="443.7" r="2.4"/><circle cx="1075.8" cy="444.0" r="2.4"/><circle cx="1076.0" cy="445.0" r="2.4"/><circle cx="1074.9" cy="444.6" r="2.4"/><circle cx="1074.0" cy="444.5" r="2.4"/><circle cx="1074.7" cy="445.7" r="2.4"/><circle cx="1072.4" cy="444.4" r="2.4"/><circle cx="1072.2" cy="444.9" r="2.4"/><circle cx="1073.4" cy="446.6" r="2.4"/><circle cx="1072.9" cy="446.8" r="2.4"/><circle cx="1071.9" cy="446.6" r="2.4"/><circle cx="1070.3" cy="445.7" r="2.4"/><circle cx="1069.2" cy="445.3" r="2.4"/><circle cx="1073.0" cy="449.9" r="2.4"/><circle cx="1069.6" cy="447.0" r="2.4"/><circle cx="1069.3" cy="447.4" r="2.4"/><circle cx="1072.5" cy="451.8" r="2.4"/><circle cx="1069.0" cy="448.6" r="2.4"/><circle cx="1066.5" cy="446.5" r="2.4"/></g>
<g fill="#fbe3c6" stroke="#f08a24" stroke-width="1.6"><circle cx="942" cy="413.2" r="3.2"/><circle cx="1037.3" cy="431.7" r="3.2"/><circle cx="1051.8" cy="421.2" r="3.2"/><circle cx="1057.8" cy="434.2" r="3.2"/><circle cx="1069.3" cy="434.4" r="3.2"/><circle cx="1133.4" cy="448" r="3.2"/><circle cx="1149.7" cy="449.4" r="3.2"/><circle cx="1161" cy="452" r="3.2"/><circle cx="1173.4" cy="453.6" r="3.2"/><circle cx="1203.8" cy="460.4" r="3.2"/></g>
<path d="M1090,134 L1062,145" stroke="#f08a24" stroke-width="4" fill="none"/><path d="M1052.6,148.4 L1064,138 L1067.5,148.5 Z" fill="#f08a24"/>
<path d="M1182.2,276.2 L1192,301" stroke="#8a1ff0" stroke-width="3" fill="none"/><path d="M1198,313.8 L1186.5,300 L1196.5,296.5 Z" fill="#8a1ff0"/>
<text x="1099" y="178.3" font-family="'Liberation Sans', sans-serif" font-size="22.2" font-weight="bold" font-style="normal" fill="#111" text-anchor="start" filter="url(#g)"  stroke="#111" stroke-width="0.85">Tension</text>
<text x="0" y="0" font-family="'Liberation Sans', sans-serif" font-size="22.8" font-weight="bold" font-style="normal" fill="#111" text-anchor="start" filter="url(#g)" transform="translate(1068,414.5) rotate(-62)" stroke="#111" stroke-width="0.85">Compression</text>
<text x="509.5" y="528" font-family="'Liberation Sans', sans-serif" font-size="38" font-weight="bold" font-style="normal" fill="#0d0d0d" text-anchor="start" filter="url(#num)" stroke-width="1.6" stroke="#0d0d0d">2</text><rect x="16" y="565" width="524" height="514" fill="#eef8fb"/>
<rect x="17.6" y="566.6" width="520.8" height="510.8" fill="#a1aeb4"/>
<rect x="18.6" y="567.6" width="518.8" height="508.8" fill="none" stroke="#eef8fb" stroke-opacity="0.3" stroke-width="2"/>
<text x="35.6" y="608.8" font-family="'Liberation Sans', sans-serif" font-size="25.3" fill="#111" filter="url(#g)" word-spacing="1.5" stroke="#111" stroke-width="0.8"><tspan font-weight="bold">Shear modulus</tspan> change with normal strain</text>
<text x="88.8" y="638.7" font-family="'Liberation Sans', sans-serif" font-size="25.3" fill="#111" filter="url(#g)" word-spacing="1.5" stroke="#111" stroke-width="0.8">under tension versus compression</text>
<rect x="90" y="666" width="435.5" height="345" fill="none" stroke="#000" stroke-width="2.4" filter="url(#gs)"/>
<path d="M90,989.4 L97,989.4 M90,967.8 L94.5,967.8 M90,946.3 L97,946.3 M90,924.7 L94.5,924.7 M90,903.1 L97,903.1 M90,881.5 L94.5,881.5 M90,860.0 L97,860.0 M90,838.4 L94.5,838.4 M90,816.8 L97,816.8 M90,795.3 L94.5,795.3 M90,773.7 L97,773.7 M90,752.1 L94.5,752.1 M90,730.6 L97,730.6 M90,709.0 L94.5,709.0 M90,687.4 L97,687.4 M126.3,1011 L126.3,1004 M162.6,1011 L162.6,1006.5 M198.9,1011 L198.9,1004 M235.2,1011 L235.2,1006.5 M271.5,1011 L271.5,1004 M307.8,1011 L307.8,1006.5 M344.1,1011 L344.1,1004 M380.4,1011 L380.4,1006.5 M416.7,1011 L416.7,1004 M453.0,1011 L453.0,1006.5 M489.3,1011 L489.3,1004" stroke="#000" stroke-width="2" fill="none"/>
<text x="82" y="995.9" font-family="'Liberation Sans', sans-serif" font-size="18" font-weight="bold" font-style="normal" fill="#111" text-anchor="end" filter="url(#g)"  stroke="#111" stroke-width="0.85">24</text>
<text x="82" y="952.76" font-family="'Liberation Sans', sans-serif" font-size="18" font-weight="bold" font-style="normal" fill="#111" text-anchor="end" filter="url(#g)"  stroke="#111" stroke-width="0.85">26</text>
<text x="82" y="909.62" font-family="'Liberation Sans', sans-serif" font-size="18" font-weight="bold" font-style="normal" fill="#111" text-anchor="end" filter="url(#g)"  stroke="#111" stroke-width="0.85">28</text>
<text x="82" y="866.48" font-family="'Liberation Sans', sans-serif" font-size="18" font-weight="bold" font-style="normal" fill="#111" text-anchor="end" filter="url(#g)"  stroke="#111" stroke-width="0.85">30</text>
<text x="82" y="823.3399999999999" font-family="'Liberation Sans', sans-serif" font-size="18" font-weight="bold" font-style="normal" fill="#111" text-anchor="end" filter="url(#g)"  stroke="#111" stroke-width="0.85">32</text>
<text x="82" y="780.2" font-family="'Liberation Sans', sans-serif" font-size="18" font-weight="bold" font-style="normal" fill="#111" text-anchor="end" filter="url(#g)"  stroke="#111" stroke-width="0.85">34</text>
<text x="82" y="737.06" font-family="'Liberation Sans', sans-serif" font-size="18" font-weight="bold" font-style="normal" fill="#111" text-anchor="end" filter="url(#g)"  stroke="#111" stroke-width="0.85">36</text>
<text x="82" y="693.92" font-family="'Liberation Sans', sans-serif" font-size="18" font-weight="bold" font-style="normal" fill="#111" text-anchor="end" filter="url(#g)"  stroke="#111" stroke-width="0.85">38</text>
<text x="126.3" y="1034.4" font-family="'Liberation Sans', sans-serif" font-size="18" font-weight="bold" font-style="normal" fill="#111" text-anchor="middle" filter="url(#g)"  stroke="#111" stroke-width="0.85">0</text>
<text x="198.89999999999998" y="1034.4" font-family="'Liberation Sans', sans-serif" font-size="18" font-weight="bold" font-style="normal" fill="#111" text-anchor="middle" filter="url(#g)"  stroke="#111" stroke-width="0.85">2</text>
<text x="271.5" y="1034.4" font-family="'Liberation Sans', sans-serif" font-size="18" font-weight="bold" font-style="normal" fill="#111" text-anchor="middle" filter="url(#g)"  stroke="#111" stroke-width="0.85">4</text>
<text x="344.09999999999997" y="1034.4" font-family="'Liberation Sans', sans-serif" font-size="18" font-weight="bold" font-style="normal" fill="#111" text-anchor="middle" filter="url(#g)"  stroke="#111" stroke-width="0.85">6</text>
<text x="416.7" y="1034.4" font-family="'Liberation Sans', sans-serif" font-size="18" font-weight="bold" font-style="normal" fill="#111" text-anchor="middle" filter="url(#g)"  stroke="#111" stroke-width="0.85">8</text>
<text x="489.3" y="1034.4" font-family="'Liberation Sans', sans-serif" font-size="18" font-weight="bold" font-style="normal" fill="#111" text-anchor="middle" filter="url(#g)"  stroke="#111" stroke-width="0.85">10</text>
<text x="307.4" y="1058" font-family="'Liberation Sans', sans-serif" font-size="22.9" font-weight="bold" fill="#111" text-anchor="middle" filter="url(#g)" stroke="#111" stroke-width="0.85"><tspan font-style="italic">z</tspan>-axis normal strain (%)</text>
<text transform="translate(47.5,880.5) rotate(-90)" font-family="'Liberation Sans', sans-serif" font-size="23" font-weight="bold" fill="#111" filter="url(#g)" stroke="#111" stroke-width="0.85"><tspan font-style="italic">G</tspan><tspan font-style="italic" font-size="17" dy="5.5">ij</tspan><tspan dy="-5.5" dx="7" font-size="22">(GPa)</tspan></text>
<path d="M103.2,866.7 L295,866.7 L295,984.9 L141.8,984.9 L141.8,994.6 L104.75,994.6 L104.75,984.9 L103.2,984.9 Z" fill="#f0f1f3" filter="url(#gs)"/>
<g fill="none" stroke="#5b8fc6" stroke-width="1.5">
<ellipse cx="144" cy="839" rx="36.4" ry="14.6"/>
<path d="M107.7,839 L107.7,955.5 M180.4,839 L180.4,955.5"/>
<ellipse cx="144" cy="955.5" rx="36.4" ry="16"/>
</g>
<ellipse cx="0" cy="0" rx="39" ry="17.5" fill="#5b8fc6" fill-opacity="0.35" stroke="#5b8fc6" stroke-width="1" transform="translate(143.5,906.5) rotate(-27)"/>
<path d="M144.3,841 L144.3,817" stroke="#3d7bbd" stroke-width="2.4"/><path d="M139.5,819 L144.3,809.5 L149.1,819 Z" fill="#3d7bbd"/>
<path d="M144.3,971.6 L144.3,994" stroke="#3d7bbd" stroke-width="2.4"/><path d="M139.5,992 L144.3,1001.8 L149.1,992 Z" fill="#3d7bbd"/>
<path d="M123.3,920 L160,895" stroke="#1f5a96" stroke-width="1.8"/><path d="M164.2,892.6 L156,893.5 L159.5,899 Z" fill="#1f5a96"/>
<path d="M142.8,904.3 L132,888" stroke="#1f5a96" stroke-width="1.6"/><path d="M130,884.8 L129,892 L134.5,889.5 Z" fill="#1f5a96"/>
<text x="123.5" y="881" font-family="'Liberation Sans', sans-serif" font-size="15" fill="#2c6aab" stroke-width="0.2" transform="rotate(-12,130,876)" stroke="#2c6aab" stroke-width="0.8">σ<tspan font-size="12" dx="2" dy="-1">n</tspan></text>
<text x="156.5" y="891" font-family="'Liberation Serif', serif" font-size="19" fill="#2c6aab" stroke-width="0.3" transform="rotate(-20,162,885)" stroke="#2c6aab" stroke-width="0.8">τ</text>
<g stroke="#5b8fc6" stroke-width="1.3" stroke-linejoin="round">
<path d="M242.2,887.75 L291,887.75 L291,934.5 L272.5,952.1 L272.5,905.3 Z" fill="#d9dde2"/>
<path d="M223.7,905.3 L242.2,887.75 L291,887.75 L272.5,905.3 Z" fill="#e6e9ee"/>
<path d="M223.7,905.3 L272.5,905.3 L272.5,952.1 L223.7,952.1 Z" fill="#e8ebf0" fill-opacity="0.8"/>
<path d="M242.2,887.75 L242.2,934.5 L291,934.5 M242.2,934.5 L223.7,952.1" fill="none"/>
</g>
<g stroke="#111" stroke-width="1.5" fill="none">
<path d="M242.6,934.5 L242.6,845"/><path d="M242.6,934.5 L323,934"/><path d="M242.6,934.5 L199,977"/>
</g>
<path d="M239,846 L242.6,838.5 L246.2,846 Z M322,930.3 L330,934 L322,937.7 Z M197,972 L194.5,981.4 L202,978 Z" fill="#111"/>
<path d="M242.6,896 L270,896" stroke="#111" stroke-width="1.3"/><path d="M269,893 L275.4,896 L269,899 Z" fill="#111"/>
<path d="M271.5,943.3 L247,943.3" stroke="#111" stroke-width="1.3"/><path d="M247.5,940.3 L241.3,943.3 L247.5,946.3 Z" fill="#111"/>
<path d="M257.8,893.6 L257.8,871" stroke="#2e9a1e" stroke-width="1.3"/><path d="M255,872 L257.8,866.3 L260.6,872 Z" fill="#2e9a1e"/>
<path d="M256.5,946 L256.5,968" stroke="#2e9a1e" stroke-width="1.3"/><path d="M253.7,967.5 L256.5,973.6 L259.3,967.5 Z" fill="#2e9a1e"/>
<text x="251.5" y="866.5" font-family="'Liberation Sans', sans-serif" font-size="17" font-weight="bold" fill="#2e9a1e" stroke="#2e9a1e" stroke-width="0.85">σ<tspan font-size="12.5" dy="2">z</tspan></text>
<text x="251.5" y="992" font-family="'Liberation Sans', sans-serif" font-size="17" font-weight="bold" fill="#2e9a1e" stroke="#2e9a1e" stroke-width="0.85">σ<tspan font-size="12.5" dy="2">z</tspan></text>
<text x="264.6" y="887" font-family="'Liberation Serif', serif" font-size="18" fill="#111" stroke="#111" stroke-width="0.8">τ<tspan font-family="'Liberation Sans', sans-serif" font-weight="bold" font-style="italic" font-size="12.5" dy="3">yz</tspan></text>
<text x="231.5" y="957" font-family="'Liberation Serif', serif" font-size="18" fill="#111" stroke="#111" stroke-width="0.8">τ<tspan font-family="'Liberation Sans', sans-serif" font-weight="bold" font-style="italic" font-size="12.5" dy="3">yz</tspan></text>
<text x="330" y="950" font-family="'Liberation Sans', sans-serif" font-size="17" font-weight="bold" font-style="italic" fill="#111" stroke="#111" stroke-width="0.85">y</text>
<text x="198.5" y="997" font-family="'Liberation Sans', sans-serif" font-size="17" font-weight="bold" font-style="italic" fill="#111" stroke="#111" stroke-width="0.85">x</text>
<path d="M126.3,737.0 L198.9,706.8 L271.5,692.8 L344.1,683.1 L416.7,688.5 L489.3,716.5" stroke="#f0882a" stroke-width="3.8" fill="none" filter="url(#gs)"/>
<g filter="url(#gs)"><rect x="118.8" y="729.5" width="15" height="15" fill="#f0882a"/><rect x="191.4" y="699.3" width="15" height="15" fill="#f0882a"/><rect x="264.0" y="685.3" width="15" height="15" fill="#f0882a"/><rect x="336.6" y="675.6" width="15" height="15" fill="#f0882a"/><rect x="409.2" y="681.0" width="15" height="15" fill="#f0882a"/><rect x="481.8" y="709.0" width="15" height="15" fill="#f0882a"/></g>
<path d="M126.3,737.0 L198.9,784.5 L271.5,820.1 L344.1,884.8 L416.7,940.9 L489.3,998.0" stroke="#8a22e6" stroke-width="3.8" fill="none" filter="url(#gs)"/>
<g filter="url(#gs)"><circle cx="126.3" cy="737.0" r="8.6" fill="#8a22e6"/><circle cx="198.9" cy="784.5" r="8.6" fill="#8a22e6"/><circle cx="271.5" cy="820.1" r="8.6" fill="#8a22e6"/><circle cx="344.1" cy="884.8" r="8.6" fill="#8a22e6"/><circle cx="416.7" cy="940.9" r="8.6" fill="#8a22e6"/><circle cx="489.3" cy="998.0" r="8.6" fill="#8a22e6"/></g>
<path d="M276.8,720 L461,720 L461,762 L509.6,762 L509.6,806.4 L461,806.4 L461,813.7 L276.8,813.7 Z" fill="#eff1f3" filter="url(#gs)"/>
<path d="M282,739 L323,739" stroke="#f0882a" stroke-width="2.2"/><rect x="295.4" y="732.6" width="12.6" height="12.6" fill="#f0882a"/>
<path d="M282,797 L324,797" stroke="#8a22e6" stroke-width="2.2"/><circle cx="302" cy="797" r="6.3" fill="#8a22e6"/>
<text x="331.6" y="744.2" font-family="'Liberation Sans', sans-serif" font-size="18" font-weight="bold" fill="#111" stroke="#111" stroke-width="0.85">Tension, <tspan font-family="'Liberation Serif', serif" font-weight="normal" font-size="22" dx="1.5">σ</tspan><tspan font-size="14" dy="4.5">n</tspan><tspan dy="-4.5" dx="1"> &gt; 0</tspan></text>
<text x="308" y="773.7" font-family="'Liberation Sans', sans-serif" font-size="21" font-weight="bold" font-style="italic" fill="#111" stroke="#111" stroke-width="0.85">ij = xz &amp; yz</text>
<text x="331.6" y="803.2" font-family="'Liberation Sans', sans-serif" font-size="18" font-weight="bold" fill="#111" stroke="#111" stroke-width="0.85">Compression, <tspan font-family="'Liberation Serif', serif" font-weight="normal" font-size="22" dx="6">σ</tspan><tspan font-size="14" dy="4.5">n</tspan><tspan dy="-4.5" dx="1.5"> &lt; 0</tspan></text>
<text x="29.5" y="1068" font-family="'Liberation Sans', sans-serif" font-size="40" font-weight="bold" font-style="normal" fill="#0d0d0d" text-anchor="start" filter="url(#num)" stroke-width="1.6" stroke="#0d0d0d">3</text><rect x="557" y="565" width="707" height="514" fill="#eef8fb"/>
<rect x="558.6" y="566.6" width="703.8" height="510.8" fill="#a1aeb4"/>
<rect x="559.6" y="567.6" width="701.8" height="508.8" fill="none" stroke="#eef8fb" stroke-opacity="0.3" stroke-width="2"/>
<text x="632.9" y="614" font-family="'Liberation Sans', sans-serif" font-size="25.3" fill="#111" filter="url(#g)" word-spacing="2" stroke="#111" stroke-width="0.8"><tspan font-weight="bold">Normal-stress-sign effect on</tspan> activation barrier Q</text>
<text x="643.4" y="644.3" font-family="'Liberation Sans', sans-serif" font-size="25.3" fill="#111" filter="url(#g)" word-spacing="1.9" stroke="#111" stroke-width="0.8">for shear transformation events in amorphous Si</text>
<g filter="url(#gs)"><path d="M573.5,832.5 L573.5,688 M572.5,831.5 L881,831.5 M573.5,977 L573.5,853 M572.5,976 L881,976" stroke="#000" stroke-width="2.4" fill="none"/><path d="M568.5,690 L573.5,680.6 L578.5,690 Z M568.5,855 L573.5,845.7 L578.5,855 Z M879,826.5 L888.3,831.5 L879,836.5 Z M879,971 L888.3,976 L879,981 Z" fill="#000"/><path d="M591,784 C600,796 608,803 618.6,803 C650,803 670,721.5 705.5,721.5 C742,721.5 770,790.7 799.6,790.7 C807,790.7 812,787 817.3,781.8" stroke="#000" stroke-width="2.6" fill="none" stroke-linecap="round"/><path d="M593.7,900.7 C600,890 608,881.9 618.6,881.9 C650,881.9 675,954 707.3,954 C742,954 772,904.2 798.5,904.2 C808,904.2 815,908 820.9,913" stroke="#000" stroke-width="2.6" fill="none" stroke-linecap="round"/></g>
<g filter="url(#gs)"><path d="M599,721.5 L705.5,721.5 M602.6,804.9 L634.5,804.9" stroke="#333" stroke-width="1.2" fill="none"/><path d="M617.5,730 L617.5,795" stroke="#111" stroke-width="1.1"/><path d="M612.3,733 L617.5,722 L622.7,733 Z M612.3,792 L617.5,803 L622.7,792 Z" fill="#111"/></g>
<g stroke="#6f787d" stroke-width="2.8" stroke-dasharray="8,3,2,3" fill="none" opacity="0.7"><path d="M617.5,808 L617.5,976"/><path d="M706.6,724 L706.6,976"/><path d="M798.5,793 L798.5,976"/></g>
<g stroke="#f4f7f9" stroke-width="1.3" stroke-dasharray="8,3,2,3" fill="none"><path d="M617.5,808 L617.5,976"/><path d="M706.6,724 L706.6,976"/><path d="M798.5,793 L798.5,976"/></g>
<text x="580" y="705.5" font-family="'Liberation Sans', sans-serif" font-size="20" font-weight="bold" font-style="italic" fill="#111" filter="url(#g)" stroke="#111" stroke-width="0.85">E</text>
<text x="580" y="867" font-family="'Liberation Sans', sans-serif" font-size="20" font-weight="bold" font-style="italic" fill="#111" filter="url(#g)" stroke="#111" stroke-width="0.85">V</text>
<text x="627" y="759" font-family="'Liberation Sans', sans-serif" font-size="23" font-weight="bold" font-style="italic" fill="#111" filter="url(#g)" stroke="#111" stroke-width="0.85">Q<tspan font-size="15.5" dy="4">0</tspan></text>
<text x="584.8" y="1005.4" font-family="'Liberation Sans', sans-serif" font-size="19.5" font-weight="normal" font-style="normal" fill="#111" text-anchor="start" filter="url(#g)" textLength="37" lengthAdjust="spacingAndGlyphs" stroke="#111" stroke-width="0.8">a-Si</text>
<text x="645" y="1005.4" font-family="'Liberation Sans', sans-serif" font-size="19.5" font-weight="normal" font-style="normal" fill="#111" text-anchor="start" filter="url(#g)" textLength="97.5" lengthAdjust="spacingAndGlyphs" stroke="#111" stroke-width="0.8">Transition</text>
<text x="694.2" y="1035.6" font-family="'Liberation Sans', sans-serif" font-size="19.5" font-weight="normal" font-style="normal" fill="#111" text-anchor="start" filter="url(#g)" textLength="48.5" lengthAdjust="spacingAndGlyphs" stroke="#111" stroke-width="0.8">state</text>
<text x="760.5" y="1005.4" font-family="'Liberation Sans', sans-serif" font-size="19.5" font-weight="normal" font-style="normal" fill="#111" text-anchor="start" filter="url(#g)" textLength="122.5" lengthAdjust="spacingAndGlyphs" stroke="#111" stroke-width="0.8">sheared a-Si</text>
<g filter="url(#gs)"><path d="M918,975.7 L918,690 M917,974.7 L1247,974.7" stroke="#000" stroke-width="2.4" fill="none"/><path d="M913,691 L918,681.5 L923,691 Z M1246,969.7 L1255.5,974.7 L1246,979.7 Z" fill="#000"/><path d="M918,837 C960,825 1000,814 1037.6,814 C1090,814 1130,830 1173.6,857.4" stroke="#000" stroke-width="2.6" fill="none"/><path d="M918,838.7 C950,842 975,843 998,847 C1050,858 1110,890 1168.7,917.4" stroke="#000" stroke-width="2.6" fill="none"/></g>
<path d="M932,839.7 L1209.6,839.7" stroke="#2a2a2a" stroke-width="2.6" stroke-dasharray="8,4,2.5,4" fill="none" filter="url(#gs)"/>
<text x="930" y="703.5" font-family="'Liberation Sans', sans-serif" font-size="23.5" font-weight="bold" font-style="italic" fill="#111" filter="url(#g)" stroke="#111" stroke-width="0.85">Q</text>
<text x="1223.5" y="851" font-family="'Liberation Sans', sans-serif" font-size="23.5" font-style="italic" fill="#111" filter="url(#g)" stroke="#111" stroke-width="0.8">Q<tspan font-size="15" dy="4">0</tspan></text>
<text x="1226.5" y="1007.5" font-family="'Liberation Serif', serif" font-size="30" font-weight="bold" font-style="italic" textLength="19" lengthAdjust="spacingAndGlyphs" fill="#111" filter="url(#g)" stroke="#111" stroke-width="0.85">ε</text>
<rect x="1000.6" y="758.5" width="103.2" height="48.5" fill="#eef0f2"/>
<rect x="972.7" y="904.3" width="153.3" height="30.4" fill="#eef0f2"/>
<text x="1001.6" y="791.5" font-family="'Liberation Sans', sans-serif" font-size="22.3" font-weight="bold" font-style="normal" fill="#111" text-anchor="start"  stroke="#111" stroke-width="0.85">Tension</text>
<text x="972.7" y="932.3" font-family="'Liberation Sans', sans-serif" font-size="22.3" font-weight="bold" font-style="normal" fill="#111" text-anchor="start"  stroke="#111" stroke-width="0.85">Compression</text>
<text x="578" y="1066" font-family="'Liberation Sans', sans-serif" font-size="38.5" font-weight="bold" font-style="normal" fill="#0d0d0d" text-anchor="start" filter="url(#num)" stroke-width="1.6" stroke="#0d0d0d">4</text>
</svg></body></html>
